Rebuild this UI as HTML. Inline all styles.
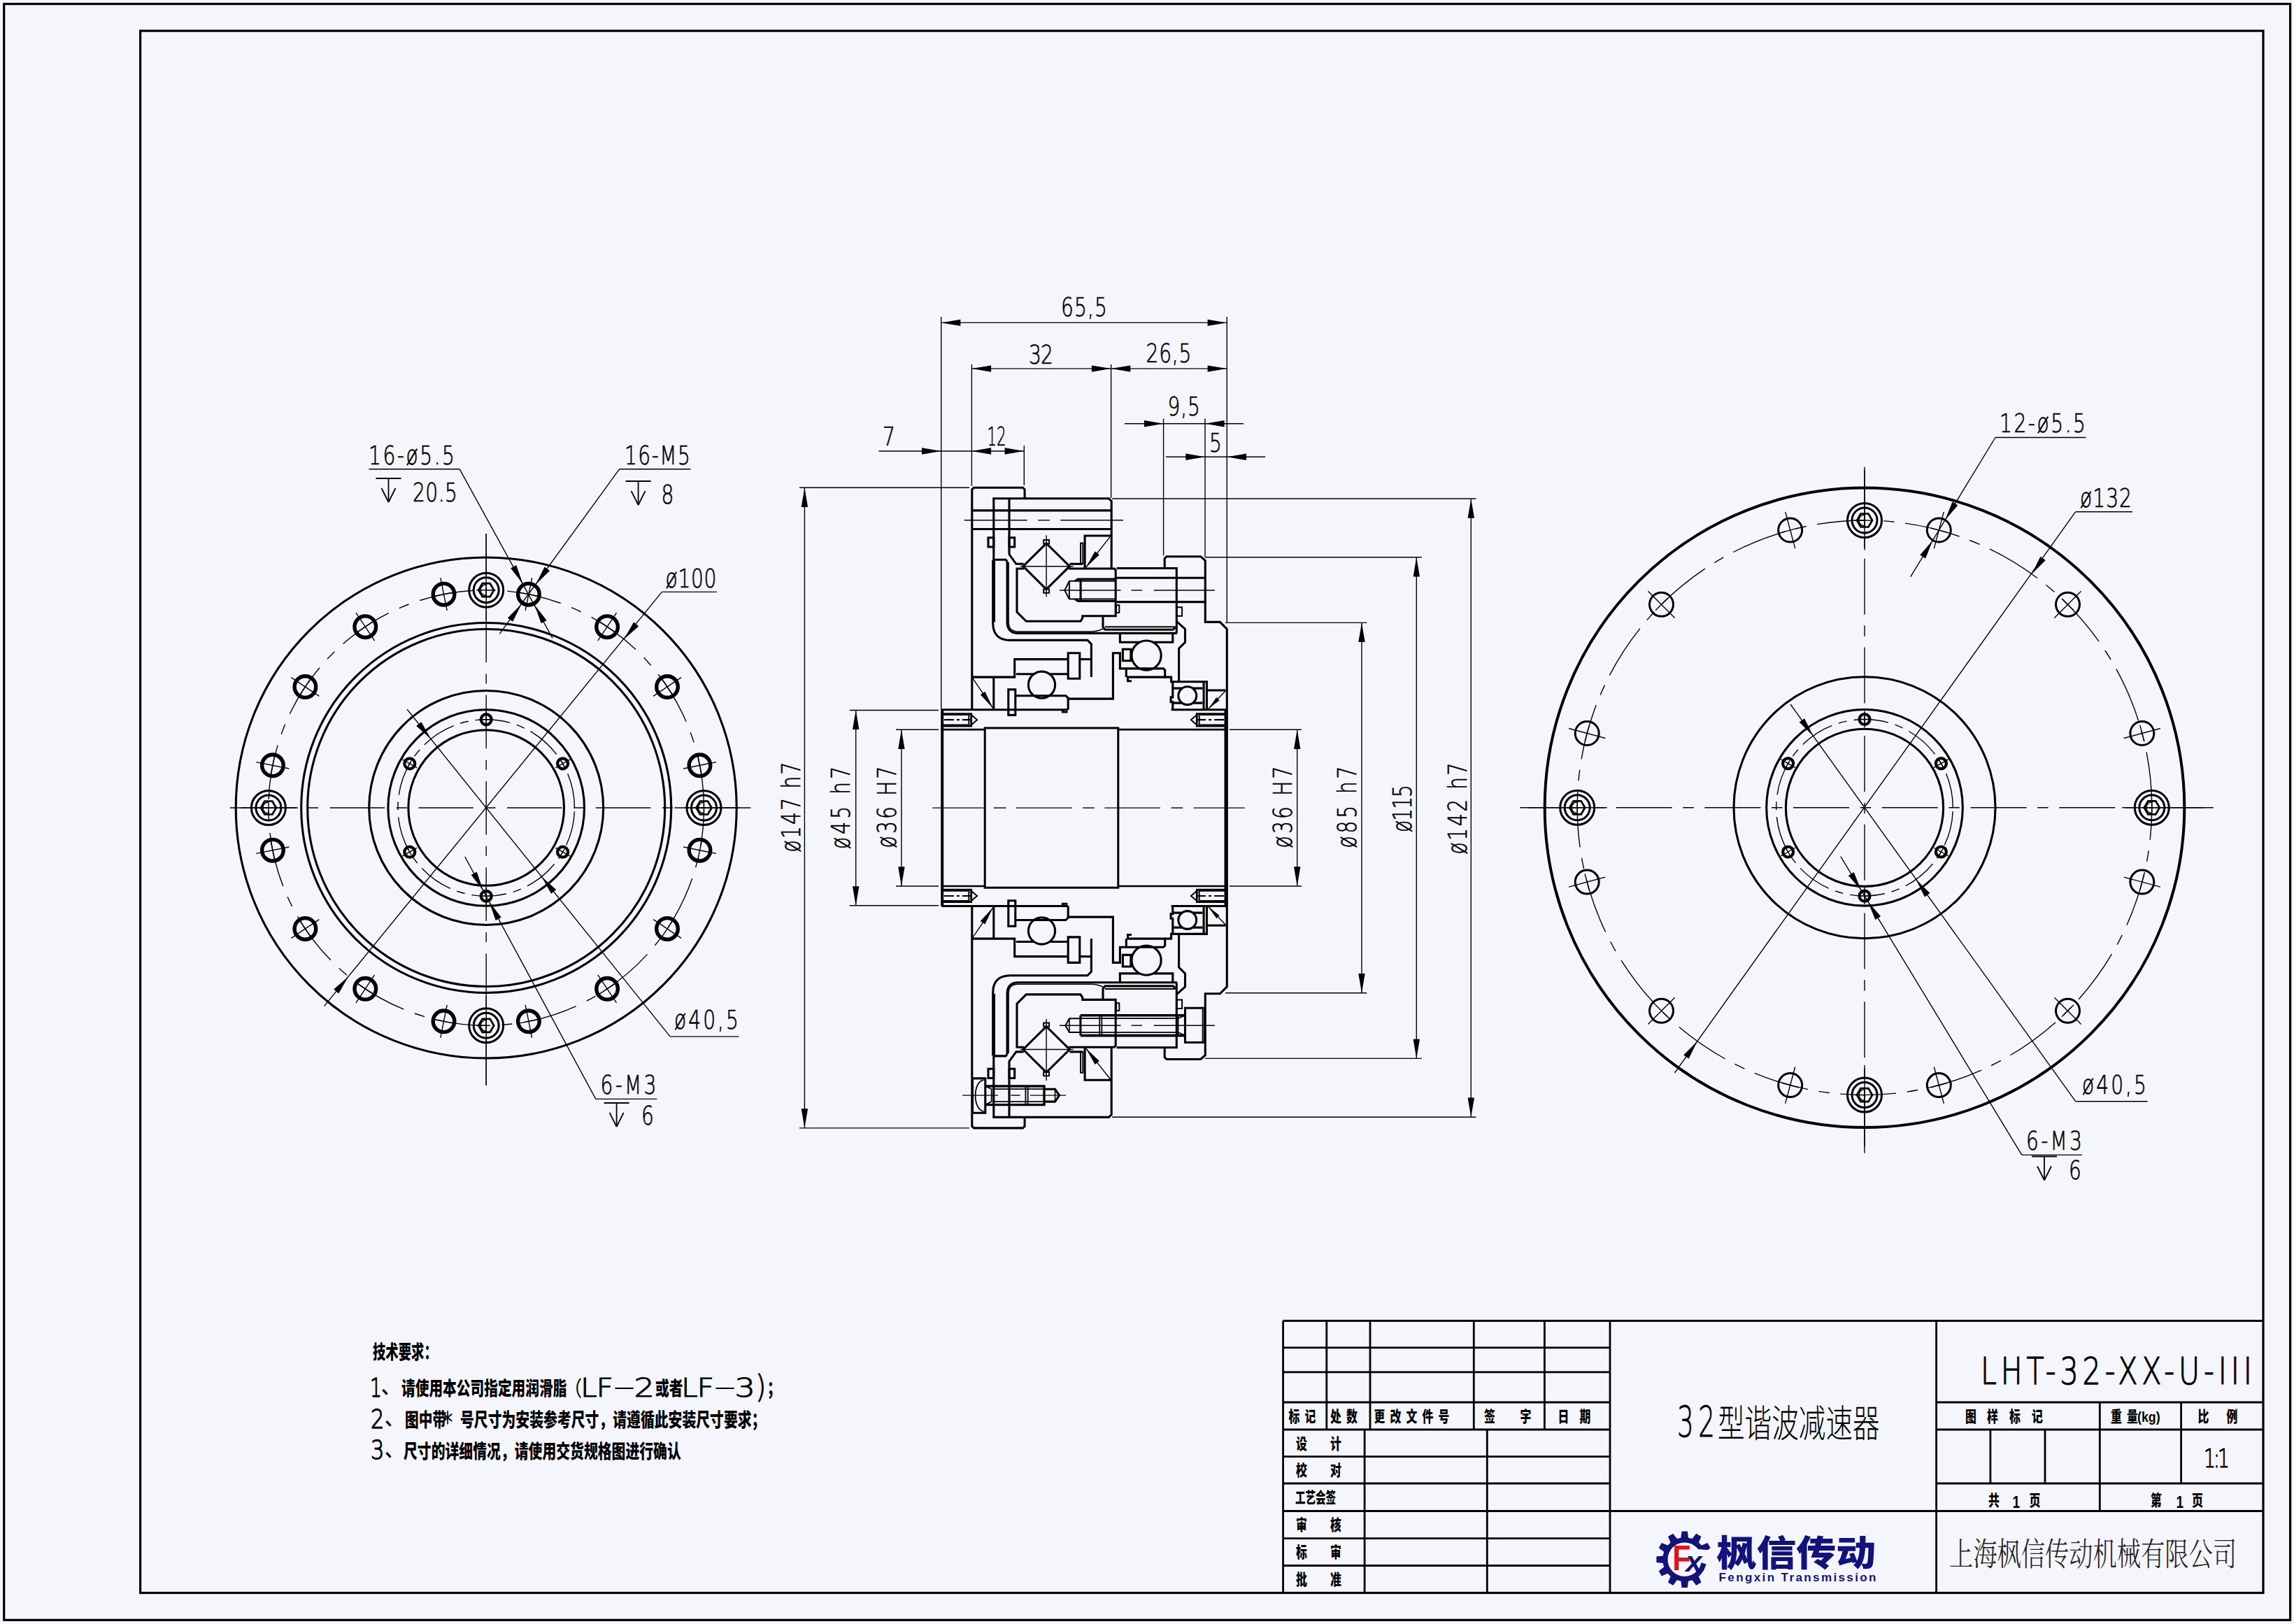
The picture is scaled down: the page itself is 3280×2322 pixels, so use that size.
<!DOCTYPE html>
<html lang="zh"><head><meta charset="utf-8"><title>LHT-32-XX-U-III</title>
<style>html,body{margin:0;padding:0;background:#f5f6fb}svg{display:block}</style></head>
<body><svg width="3280" height="2322" viewBox="0 0 3280 2322" stroke="#000" fill="none">
<rect x="0" y="0" width="3280" height="2322" fill="#f5f6fb" stroke="none"/>
<rect x="5.7" y="5.6" width="3268.9" height="2310.7" stroke-width="3.2" fill="none"/>
<rect x="200.6" y="44.1" width="3035.4" height="2233.4" stroke-width="3.2" fill="none"/>
<line x1="1834.6" y1="1888.5" x2="3236" y2="1888.5" stroke-width="2.8"/>
<line x1="1834.6" y1="1888.5" x2="1834.6" y2="2277.5" stroke-width="2.8"/>
<line x1="1834.6" y1="1926.9" x2="2302" y2="1926.9" stroke-width="2.8"/>
<line x1="1834.6" y1="1961.9" x2="2302" y2="1961.9" stroke-width="2.8"/>
<line x1="1834.6" y1="2005" x2="2302" y2="2005" stroke-width="2.8"/>
<line x1="1834.6" y1="2044" x2="2302" y2="2044" stroke-width="2.8"/>
<line x1="1834.6" y1="2082.6" x2="2302" y2="2082.6" stroke-width="2.8"/>
<line x1="1834.6" y1="2121" x2="2302" y2="2121" stroke-width="2.8"/>
<line x1="1834.6" y1="2160.5" x2="2302" y2="2160.5" stroke-width="2.8"/>
<line x1="1834.6" y1="2199.6" x2="2302" y2="2199.6" stroke-width="2.8"/>
<line x1="1834.6" y1="2238.5" x2="2302" y2="2238.5" stroke-width="2.8"/>
<line x1="1896.8" y1="1888.5" x2="1896.8" y2="2044" stroke-width="2.8"/>
<line x1="1959" y1="1888.5" x2="1959" y2="2044" stroke-width="2.8"/>
<line x1="2107.3" y1="1888.5" x2="2107.3" y2="2044" stroke-width="2.8"/>
<line x1="2208.4" y1="1888.5" x2="2208.4" y2="2044" stroke-width="2.8"/>
<line x1="1951.1" y1="2044" x2="1951.1" y2="2277.5" stroke-width="2.8"/>
<line x1="2126.3" y1="2044" x2="2126.3" y2="2277.5" stroke-width="2.8"/>
<line x1="2302" y1="1888.5" x2="2302" y2="2277.5" stroke-width="2.8"/>
<line x1="2768.6" y1="1888.5" x2="2768.6" y2="2277.5" stroke-width="2.8"/>
<line x1="2302" y1="2160.5" x2="3236" y2="2160.5" stroke-width="2.8"/>
<line x1="2768.6" y1="2005" x2="3236" y2="2005" stroke-width="2.8"/>
<line x1="2768.6" y1="2044" x2="3236" y2="2044" stroke-width="2.8"/>
<line x1="2768.6" y1="2121" x2="3236" y2="2121" stroke-width="2.8"/>
<line x1="3002.3" y1="2005" x2="3002.3" y2="2160.5" stroke-width="2.8"/>
<line x1="3118.6" y1="2005" x2="3118.6" y2="2121" stroke-width="2.8"/>
<line x1="2845.9" y1="2044" x2="2845.9" y2="2121" stroke-width="2.8"/>
<line x1="2924" y1="2044" x2="2924" y2="2121" stroke-width="2.8"/>
<text transform="translate(1842.5 2032.5) scale(0.72 1)" font-family="'Noto Sans CJK SC','Liberation Sans',sans-serif" font-size="22" text-anchor="start" font-weight="900" fill="#000" stroke="none" >标</text>
<text transform="translate(1865.5 2032.5) scale(0.72 1)" font-family="'Noto Sans CJK SC','Liberation Sans',sans-serif" font-size="22" text-anchor="start" font-weight="900" fill="#000" stroke="none" >记</text>
<text transform="translate(1902 2032.5) scale(0.72 1)" font-family="'Noto Sans CJK SC','Liberation Sans',sans-serif" font-size="22" text-anchor="start" font-weight="900" fill="#000" stroke="none" >处</text>
<text transform="translate(1925 2032.5) scale(0.72 1)" font-family="'Noto Sans CJK SC','Liberation Sans',sans-serif" font-size="22" text-anchor="start" font-weight="900" fill="#000" stroke="none" >数</text>
<text transform="translate(1964.5 2032.5) scale(0.72 1)" font-family="'Noto Sans CJK SC','Liberation Sans',sans-serif" font-size="22" text-anchor="start" font-weight="900" fill="#000" stroke="none" >更</text>
<text transform="translate(1987.5 2032.5) scale(0.72 1)" font-family="'Noto Sans CJK SC','Liberation Sans',sans-serif" font-size="22" text-anchor="start" font-weight="900" fill="#000" stroke="none" >改</text>
<text transform="translate(2010.5 2032.5) scale(0.72 1)" font-family="'Noto Sans CJK SC','Liberation Sans',sans-serif" font-size="22" text-anchor="start" font-weight="900" fill="#000" stroke="none" >文</text>
<text transform="translate(2033.5 2032.5) scale(0.72 1)" font-family="'Noto Sans CJK SC','Liberation Sans',sans-serif" font-size="22" text-anchor="start" font-weight="900" fill="#000" stroke="none" >件</text>
<text transform="translate(2056.5 2032.5) scale(0.72 1)" font-family="'Noto Sans CJK SC','Liberation Sans',sans-serif" font-size="22" text-anchor="start" font-weight="900" fill="#000" stroke="none" >号</text>
<text transform="translate(2122 2032.5) scale(0.72 1)" font-family="'Noto Sans CJK SC','Liberation Sans',sans-serif" font-size="22" text-anchor="start" font-weight="900" fill="#000" stroke="none" >签</text>
<text transform="translate(2173.5 2032.5) scale(0.72 1)" font-family="'Noto Sans CJK SC','Liberation Sans',sans-serif" font-size="22" text-anchor="start" font-weight="900" fill="#000" stroke="none" >字</text>
<text transform="translate(2227.5 2032.5) scale(0.72 1)" font-family="'Noto Sans CJK SC','Liberation Sans',sans-serif" font-size="22" text-anchor="start" font-weight="900" fill="#000" stroke="none" >日</text>
<text transform="translate(2258.5 2032.5) scale(0.72 1)" font-family="'Noto Sans CJK SC','Liberation Sans',sans-serif" font-size="22" text-anchor="start" font-weight="900" fill="#000" stroke="none" >期</text>
<text transform="translate(1853 2071.5) scale(0.72 1)" font-family="'Noto Sans CJK SC','Liberation Sans',sans-serif" font-size="22" text-anchor="start" font-weight="900" fill="#000" stroke="none" >设</text>
<text transform="translate(1902 2071.5) scale(0.72 1)" font-family="'Noto Sans CJK SC','Liberation Sans',sans-serif" font-size="22" text-anchor="start" font-weight="900" fill="#000" stroke="none" >计</text>
<text transform="translate(1853 2110) scale(0.72 1)" font-family="'Noto Sans CJK SC','Liberation Sans',sans-serif" font-size="22" text-anchor="start" font-weight="900" fill="#000" stroke="none" >校</text>
<text transform="translate(1902 2110) scale(0.72 1)" font-family="'Noto Sans CJK SC','Liberation Sans',sans-serif" font-size="22" text-anchor="start" font-weight="900" fill="#000" stroke="none" >对</text>
<text transform="translate(1853 2188) scale(0.72 1)" font-family="'Noto Sans CJK SC','Liberation Sans',sans-serif" font-size="22" text-anchor="start" font-weight="900" fill="#000" stroke="none" >审</text>
<text transform="translate(1902 2188) scale(0.72 1)" font-family="'Noto Sans CJK SC','Liberation Sans',sans-serif" font-size="22" text-anchor="start" font-weight="900" fill="#000" stroke="none" >核</text>
<text transform="translate(1853 2227) scale(0.72 1)" font-family="'Noto Sans CJK SC','Liberation Sans',sans-serif" font-size="22" text-anchor="start" font-weight="900" fill="#000" stroke="none" >标</text>
<text transform="translate(1902 2227) scale(0.72 1)" font-family="'Noto Sans CJK SC','Liberation Sans',sans-serif" font-size="22" text-anchor="start" font-weight="900" fill="#000" stroke="none" >审</text>
<text transform="translate(1853 2266) scale(0.72 1)" font-family="'Noto Sans CJK SC','Liberation Sans',sans-serif" font-size="22" text-anchor="start" font-weight="900" fill="#000" stroke="none" >批</text>
<text transform="translate(1902 2266) scale(0.72 1)" font-family="'Noto Sans CJK SC','Liberation Sans',sans-serif" font-size="22" text-anchor="start" font-weight="900" fill="#000" stroke="none" >准</text>
<text transform="translate(1852 2149) scale(0.66 1)" font-family="'Noto Sans CJK SC','Liberation Sans',sans-serif" font-size="22" text-anchor="start" font-weight="900" fill="#000" stroke="none" >工艺会签</text>
<text transform="translate(2810 2032.5) scale(0.72 1)" font-family="'Noto Sans CJK SC','Liberation Sans',sans-serif" font-size="22" text-anchor="start" font-weight="900" fill="#000" stroke="none" >图</text>
<text transform="translate(2841 2032.5) scale(0.72 1)" font-family="'Noto Sans CJK SC','Liberation Sans',sans-serif" font-size="22" text-anchor="start" font-weight="900" fill="#000" stroke="none" >样</text>
<text transform="translate(2873 2032.5) scale(0.72 1)" font-family="'Noto Sans CJK SC','Liberation Sans',sans-serif" font-size="22" text-anchor="start" font-weight="900" fill="#000" stroke="none" >标</text>
<text transform="translate(2905 2032.5) scale(0.72 1)" font-family="'Noto Sans CJK SC','Liberation Sans',sans-serif" font-size="22" text-anchor="start" font-weight="900" fill="#000" stroke="none" >记</text>
<text transform="translate(3018 2032.5) scale(0.72 1)" font-family="'Noto Sans CJK SC','Liberation Sans',sans-serif" font-size="22" text-anchor="start" font-weight="900" fill="#000" stroke="none" >重</text>
<text transform="translate(3041 2032.5) scale(0.72 1)" font-family="'Noto Sans CJK SC','Liberation Sans',sans-serif" font-size="22" text-anchor="start" font-weight="900" fill="#000" stroke="none" >量</text>
<text transform="translate(3056 2032.5) scale(0.85 1)" font-family="'Liberation Sans','DejaVu Sans',sans-serif" font-size="21" text-anchor="start" font-weight="700" fill="#000" stroke="none" >(kg)</text>
<text transform="translate(3142.5 2032.5) scale(0.72 1)" font-family="'Noto Sans CJK SC','Liberation Sans',sans-serif" font-size="22" text-anchor="start" font-weight="900" fill="#000" stroke="none" >比</text>
<text transform="translate(3183.5 2032.5) scale(0.72 1)" font-family="'Noto Sans CJK SC','Liberation Sans',sans-serif" font-size="22" text-anchor="start" font-weight="900" fill="#000" stroke="none" >例</text>
<text transform="translate(2843 2152.5) scale(0.72 1)" font-family="'Noto Sans CJK SC','Liberation Sans',sans-serif" font-size="22" text-anchor="start" font-weight="900" fill="#000" stroke="none" >共</text>
<text transform="translate(2901.5 2152.5) scale(0.72 1)" font-family="'Noto Sans CJK SC','Liberation Sans',sans-serif" font-size="22" text-anchor="start" font-weight="900" fill="#000" stroke="none" >页</text>
<text transform="translate(2877.5 2155.5) scale(0.8 1)" font-family="'Liberation Sans','DejaVu Sans',sans-serif" font-size="24" text-anchor="start" font-weight="700" fill="#000" stroke="none" >1</text>
<text transform="translate(3075 2152.5) scale(0.72 1)" font-family="'Noto Sans CJK SC','Liberation Sans',sans-serif" font-size="22" text-anchor="start" font-weight="900" fill="#000" stroke="none" >第</text>
<text transform="translate(3134 2152.5) scale(0.72 1)" font-family="'Noto Sans CJK SC','Liberation Sans',sans-serif" font-size="22" text-anchor="start" font-weight="900" fill="#000" stroke="none" >页</text>
<text transform="translate(3111.5 2155.5) scale(0.8 1)" font-family="'Liberation Sans','DejaVu Sans',sans-serif" font-size="24" text-anchor="start" font-weight="700" fill="#000" stroke="none" >1</text>
<text transform="translate(3151 2097.7) scale(0.7 1)" font-family="'DejaVu Sans','Liberation Sans',sans-serif" font-size="38" text-anchor="start" font-weight="200" fill="#000" textLength="52.9" lengthAdjust="spacing" stroke="#000" stroke-width="1.1" >1:1</text>
<text transform="translate(2832 1978.6) scale(0.78 1)" font-family="'DejaVu Sans','Liberation Sans',sans-serif" font-size="52.7" text-anchor="start" font-weight="200" fill="#000" textLength="497.4" lengthAdjust="spacing" stroke="#000" stroke-width="1.2" >LHT-32-XX-U-III</text>
<text transform="translate(2398 2054) scale(0.62 1)" font-family="'DejaVu Sans','Liberation Sans',sans-serif" font-size="60" text-anchor="start" font-weight="200" fill="#000" textLength="87.1" lengthAdjust="spacing" stroke="#000" stroke-width="0.9" >32</text>
<text transform="translate(2456 2055) scale(0.715 1)" font-family="'Noto Sans CJK SC','Liberation Sans',sans-serif" font-size="54" text-anchor="start" font-weight="300" fill="#000" stroke="none" >型谐波减速器</text>
<text transform="translate(2787 2238) scale(0.745 1)" font-family="'Noto Serif CJK SC','Liberation Serif',serif" font-size="46" text-anchor="start" font-weight="300" fill="#222" stroke="none" >上海枫信传动机械有限公司</text>
<path d="M2439.1 2221.6 L2440.2 2229.7 L2439.1 2237.8 L2439.1 2237.9 L2436 2245.4 L2431 2251.9 L2428.8 2253.9 L2432.5 2262.5 L2425.2 2266.7 L2419.6 2259.3 L2414 2260.7 L2412.9 2270 L2404.5 2270 L2403.4 2260.7 L2397.8 2259.3 L2392.2 2266.7 L2384.9 2262.5 L2388.6 2253.9 L2384.5 2249.8 L2375.9 2253.5 L2371.7 2246.2 L2379.1 2240.6 L2377.7 2235 L2368.4 2233.9 L2368.4 2225.5 L2377.7 2224.4 L2379.1 2218.8 L2371.7 2213.2 L2375.9 2205.9 L2384.5 2209.6 L2388.6 2205.5 L2384.9 2196.9 L2392.2 2192.7 L2397.8 2200.1 L2403.4 2198.7 L2404.5 2189.4 L2412.9 2189.4 L2414 2198.7 L2419.6 2200.1 L2425.2 2192.7 L2432.5 2196.9 L2428.8 2205.5 L2432.9 2209.6 L2441.5 2205.9 L2445.7 2213.2 L2438.3 2218.8Z M2432.9 2229.7 A24.2 24.2 0 1 0 2384.5 2229.7 A24.2 24.2 0 1 0 2432.9 2229.7Z" fill="#12127c" fill-rule="evenodd" stroke="none"/>
<polygon points="2424.7,2214.7 2448.7,2216.7 2448.7,2238.7 2426.7,2232.7" fill="#f5f6fb" stroke="none"/>
<text transform="translate(2391.2 2245.2) scale(0.86 1)" font-family="'Liberation Sans','DejaVu Sans',sans-serif" font-size="50" text-anchor="start" font-weight="700" fill="#d8141c" stroke="none" >F</text>
<text transform="translate(2410.2 2246.7) scale(1.05 1)" font-family="'Liberation Sans','DejaVu Sans',sans-serif" font-size="40" text-anchor="start" font-weight="700" fill="#12127c" stroke="none" font-style="italic">x</text>
<text transform="translate(2454.5 2238.5) scale(1.105 1)" font-family="'Noto Sans CJK SC','Liberation Sans',sans-serif" font-size="51.5" text-anchor="start" font-weight="900" fill="#12127c" stroke="none" >枫信传动</text>
<text transform="translate(2457.5 2260.8)" font-family="'Liberation Sans','DejaVu Sans',sans-serif" font-size="17" text-anchor="start" font-weight="700" fill="#12127c" textLength="225" lengthAdjust="spacing" stroke="none" >Fengxin Transmission</text>
<text transform="translate(533 1943) scale(0.68 1)" font-family="'Noto Sans CJK SC','Liberation Sans',sans-serif" font-size="27" text-anchor="start" font-weight="900" fill="#000" stroke="none" >技术要求：</text>
<text transform="translate(529 1996.5) scale(0.7 1)" font-family="'DejaVu Sans','Liberation Sans',sans-serif" font-size="38" text-anchor="start" font-weight="200" fill="#000" stroke="#000" stroke-width="1.3" >1</text>
<text transform="translate(545 1992) scale(0.9 1)" font-family="'Liberation Sans','Noto Sans CJK SC',sans-serif" font-size="30" text-anchor="start" font-weight="500" fill="#000" stroke="none" >、</text>
<text transform="translate(574 1995) scale(0.73 1)" font-family="'Noto Sans CJK SC','Liberation Sans',sans-serif" font-size="27" text-anchor="start" font-weight="900" fill="#000" stroke="none" >请使用本公司指定用润滑脂</text>
<text transform="translate(806 1996) scale(0.875 1)" font-family="'Liberation Sans','Noto Sans CJK SC',sans-serif" font-size="30" text-anchor="start" font-weight="400" fill="#000" stroke="none" >（</text>
<text transform="translate(830 1996.5) scale(1.15 1)" font-family="'DejaVu Sans','Liberation Sans',sans-serif" font-size="37" text-anchor="start" font-weight="200" fill="#000" textLength="40.9" lengthAdjust="spacing" stroke="#000" stroke-width="1.0" >LF</text>
<text transform="translate(874.5 1996) scale(1.2 1)" font-family="'Liberation Sans','Noto Sans CJK SC',sans-serif" font-size="30" text-anchor="start" font-weight="400" fill="#000" stroke="none" >－</text>
<text transform="translate(906.5 1996.5) scale(1.25 1)" font-family="'DejaVu Sans','Liberation Sans',sans-serif" font-size="37" text-anchor="start" font-weight="200" fill="#000" stroke="#000" stroke-width="1.0" >2</text>
<text transform="translate(937 1995) scale(0.73 1)" font-family="'Noto Sans CJK SC','Liberation Sans',sans-serif" font-size="27" text-anchor="start" font-weight="900" fill="#000" stroke="none" >或者</text>
<text transform="translate(974 1996.5) scale(1.15 1)" font-family="'DejaVu Sans','Liberation Sans',sans-serif" font-size="37" text-anchor="start" font-weight="200" fill="#000" textLength="40.9" lengthAdjust="spacing" stroke="#000" stroke-width="1.0" >LF</text>
<text transform="translate(1018.5 1996) scale(1.2 1)" font-family="'Liberation Sans','Noto Sans CJK SC',sans-serif" font-size="30" text-anchor="start" font-weight="400" fill="#000" stroke="none" >－</text>
<text transform="translate(1050.5 1996.5) scale(1.25 1)" font-family="'DejaVu Sans','Liberation Sans',sans-serif" font-size="37" text-anchor="start" font-weight="200" fill="#000" stroke="#000" stroke-width="1.0" >3</text>
<text transform="translate(1080 1998) scale(0.9 1)" font-family="'DejaVu Sans','Liberation Sans',sans-serif" font-size="44" text-anchor="start" font-weight="200" fill="#000" stroke="#000" stroke-width="1.0" >)</text>
<text transform="translate(1097 1995) scale(0.73 1)" font-family="'Noto Sans CJK SC','Liberation Sans',sans-serif" font-size="27" text-anchor="start" font-weight="900" fill="#000" stroke="none" >；</text>
<text transform="translate(530 2041.5) scale(0.8 1)" font-family="'DejaVu Sans','Liberation Sans',sans-serif" font-size="38" text-anchor="start" font-weight="200" fill="#000" stroke="#000" stroke-width="1.3" >2</text>
<text transform="translate(550 2037) scale(0.9 1)" font-family="'Liberation Sans','Noto Sans CJK SC',sans-serif" font-size="30" text-anchor="start" font-weight="500" fill="#000" stroke="none" >、</text>
<text transform="translate(579 2040) scale(0.73 1)" font-family="'Noto Sans CJK SC','Liberation Sans',sans-serif" font-size="27" text-anchor="start" font-weight="900" fill="#000" stroke="none" >图中带</text>
<text transform="translate(633 2048) scale(0.7 1)" font-family="'DejaVu Sans','Liberation Sans',sans-serif" font-size="40" text-anchor="start" font-weight="200" fill="#000" stroke="#000" stroke-width="1.2" >*</text>
<text transform="translate(658 2040) scale(0.735 1)" font-family="'Noto Sans CJK SC','Liberation Sans',sans-serif" font-size="27" text-anchor="start" font-weight="900" fill="#000" stroke="none" >号尺寸为安装参考尺寸，请遵循此安装尺寸要求；</text>
<text transform="translate(530 2086) scale(0.8 1)" font-family="'DejaVu Sans','Liberation Sans',sans-serif" font-size="38" text-anchor="start" font-weight="200" fill="#000" stroke="#000" stroke-width="1.3" >3</text>
<text transform="translate(550 2081.5) scale(0.9 1)" font-family="'Liberation Sans','Noto Sans CJK SC',sans-serif" font-size="30" text-anchor="start" font-weight="500" fill="#000" stroke="none" >、</text>
<text transform="translate(577 2084.5) scale(0.735 1)" font-family="'Noto Sans CJK SC','Liberation Sans',sans-serif" font-size="27" text-anchor="start" font-weight="900" fill="#000" stroke="none" >尺寸的详细情况，请使用交货规格图进行确认</text>
<circle cx="695.2" cy="1155" r="358" stroke-width="3.1" fill="none"/>
<circle cx="695.2" cy="1155" r="264.5" stroke-width="3.1" fill="none"/>
<circle cx="695.2" cy="1155" r="255.5" stroke-width="3.1" fill="none"/>
<circle cx="695.2" cy="1155" r="167.5" stroke-width="3.1" fill="none"/>
<circle cx="695.2" cy="1155" r="140.3" stroke-width="3.1" fill="none"/>
<circle cx="695.2" cy="1155" r="111.3" stroke-width="3.1" fill="none"/>
<circle cx="695.2" cy="1155" r="311.3" stroke-width="1.4" stroke-dasharray="78.5 16.6 15 16.6" stroke-dashoffset="0" fill="none" transform="translate(0 2310) scale(1 -1)"/>
<circle cx="695.2" cy="1155" r="126.3" stroke-width="1.4" stroke-dasharray="50 10 12 10" stroke-dashoffset="0" fill="none" transform="translate(0 2310) scale(1 -1)"/>
<line x1="328.7" y1="1155" x2="1073.3" y2="1155" stroke-width="1.4" stroke-dasharray="78.5 16.6 15 16.6" stroke-dashoffset="110.4"/>
<line x1="695.2" y1="763" x2="695.2" y2="1552" stroke-width="1.4" stroke-dasharray="76.5 16.35 14 16.35" stroke-dashoffset="15.6"/>
<line x1="964.5" y1="1155" x2="1073.3" y2="1155" stroke-width="1.4"/>
<line x1="695.2" y1="1424.3" x2="695.2" y2="1552" stroke-width="1.4"/>
<line x1="425.9" y1="1155" x2="328.7" y2="1155" stroke-width="1.4"/>
<line x1="695.2" y1="885.7" x2="695.2" y2="763" stroke-width="1.4"/>
<circle cx="755.9" cy="849.7" r="15.3" stroke-width="5.4" fill="none"/>
<line x1="751.2" y1="873.2" x2="760.6" y2="826.1" stroke-width="1.4"/>
<line x1="743.2" y1="847.1" x2="768.7" y2="852.2" stroke-width="1.4"/>
<circle cx="868.1" cy="896.2" r="15.3" stroke-width="5.4" fill="none"/>
<line x1="854.8" y1="916.1" x2="881.5" y2="876.2" stroke-width="1.4"/>
<line x1="857.3" y1="888.9" x2="879" y2="903.4" stroke-width="1.4"/>
<circle cx="954" cy="982.1" r="15.3" stroke-width="5.4" fill="none"/>
<line x1="934.1" y1="995.4" x2="974" y2="968.7" stroke-width="1.4"/>
<line x1="946.8" y1="971.2" x2="961.3" y2="992.9" stroke-width="1.4"/>
<circle cx="1000.5" cy="1094.3" r="15.3" stroke-width="5.4" fill="none"/>
<line x1="977" y1="1099" x2="1024.1" y2="1089.6" stroke-width="1.4"/>
<line x1="998" y1="1081.5" x2="1003.1" y2="1107" stroke-width="1.4"/>
<circle cx="1000.5" cy="1215.7" r="15.3" stroke-width="5.4" fill="none"/>
<line x1="977" y1="1211" x2="1024.1" y2="1220.4" stroke-width="1.4"/>
<line x1="1003.1" y1="1203" x2="998" y2="1228.5" stroke-width="1.4"/>
<circle cx="954" cy="1327.9" r="15.3" stroke-width="5.4" fill="none"/>
<line x1="934.1" y1="1314.6" x2="974" y2="1341.3" stroke-width="1.4"/>
<line x1="961.3" y1="1317.1" x2="946.8" y2="1338.8" stroke-width="1.4"/>
<circle cx="868.1" cy="1413.8" r="15.3" stroke-width="5.4" fill="none"/>
<line x1="854.8" y1="1393.9" x2="881.5" y2="1433.8" stroke-width="1.4"/>
<line x1="879" y1="1406.6" x2="857.3" y2="1421.1" stroke-width="1.4"/>
<circle cx="755.9" cy="1460.3" r="15.3" stroke-width="5.4" fill="none"/>
<line x1="751.2" y1="1436.8" x2="760.6" y2="1483.9" stroke-width="1.4"/>
<line x1="768.7" y1="1457.8" x2="743.2" y2="1462.9" stroke-width="1.4"/>
<circle cx="634.5" cy="1460.3" r="15.3" stroke-width="5.4" fill="none"/>
<line x1="639.2" y1="1436.8" x2="629.8" y2="1483.9" stroke-width="1.4"/>
<line x1="647.2" y1="1462.9" x2="621.7" y2="1457.8" stroke-width="1.4"/>
<circle cx="522.3" cy="1413.8" r="15.3" stroke-width="5.4" fill="none"/>
<line x1="535.6" y1="1393.9" x2="508.9" y2="1433.8" stroke-width="1.4"/>
<line x1="533.1" y1="1421.1" x2="511.4" y2="1406.6" stroke-width="1.4"/>
<circle cx="436.4" cy="1327.9" r="15.3" stroke-width="5.4" fill="none"/>
<line x1="456.3" y1="1314.6" x2="416.4" y2="1341.3" stroke-width="1.4"/>
<line x1="443.6" y1="1338.8" x2="429.1" y2="1317.1" stroke-width="1.4"/>
<circle cx="389.9" cy="1215.7" r="15.3" stroke-width="5.4" fill="none"/>
<line x1="413.4" y1="1211" x2="366.3" y2="1220.4" stroke-width="1.4"/>
<line x1="392.4" y1="1228.5" x2="387.3" y2="1203" stroke-width="1.4"/>
<circle cx="389.9" cy="1094.3" r="15.3" stroke-width="5.4" fill="none"/>
<line x1="413.4" y1="1099" x2="366.3" y2="1089.6" stroke-width="1.4"/>
<line x1="387.3" y1="1107" x2="392.4" y2="1081.5" stroke-width="1.4"/>
<circle cx="436.4" cy="982.1" r="15.3" stroke-width="5.4" fill="none"/>
<line x1="456.3" y1="995.4" x2="416.4" y2="968.7" stroke-width="1.4"/>
<line x1="429.1" y1="992.9" x2="443.6" y2="971.2" stroke-width="1.4"/>
<circle cx="522.3" cy="896.2" r="15.3" stroke-width="5.4" fill="none"/>
<line x1="535.6" y1="916.1" x2="508.9" y2="876.2" stroke-width="1.4"/>
<line x1="511.4" y1="903.4" x2="533.1" y2="888.9" stroke-width="1.4"/>
<circle cx="634.5" cy="849.7" r="15.3" stroke-width="5.4" fill="none"/>
<line x1="639.2" y1="873.2" x2="629.8" y2="826.1" stroke-width="1.4"/>
<line x1="621.7" y1="852.2" x2="647.2" y2="847.1" stroke-width="1.4"/>
<circle cx="1006.5" cy="1155" r="24.5" stroke-width="3.0" fill="none"/>
<circle cx="1006.5" cy="1155" r="18" stroke-width="3.0" fill="none"/>
<path d="M1017.5 1155 L1012 1164.5 L1001 1164.5 L995.5 1155 L1001 1145.5 L1012 1145.5Z" stroke-width="2.7" fill="none" stroke-linejoin="miter"/>
<path d="M1006.5 1147 A8 8 0 0 0 1006.5 1163" stroke-width="1.45" fill="none" />
<line x1="1006.5" y1="1147" x2="1006.5" y2="1163" stroke-width="1.4"/>
<line x1="992.5" y1="1155" x2="1006.5" y2="1155" stroke-width="1.4"/>
<circle cx="695.2" cy="1466.3" r="24.5" stroke-width="3.0" fill="none"/>
<circle cx="695.2" cy="1466.3" r="18" stroke-width="3.0" fill="none"/>
<path d="M706.2 1466.3 L700.7 1475.8 L689.7 1475.8 L684.2 1466.3 L689.7 1456.8 L700.7 1456.8Z" stroke-width="2.7" fill="none" stroke-linejoin="miter"/>
<path d="M695.2 1458.3 A8 8 0 0 0 695.2 1474.3" stroke-width="1.45" fill="none" />
<line x1="695.2" y1="1458.3" x2="695.2" y2="1474.3" stroke-width="1.4"/>
<line x1="681.2" y1="1466.3" x2="695.2" y2="1466.3" stroke-width="1.4"/>
<circle cx="383.9" cy="1155" r="24.5" stroke-width="3.0" fill="none"/>
<circle cx="383.9" cy="1155" r="18" stroke-width="3.0" fill="none"/>
<path d="M394.9 1155 L389.4 1164.5 L378.4 1164.5 L372.9 1155 L378.4 1145.5 L389.4 1145.5Z" stroke-width="2.7" fill="none" stroke-linejoin="miter"/>
<path d="M383.9 1147 A8 8 0 0 0 383.9 1163" stroke-width="1.45" fill="none" />
<line x1="383.9" y1="1147" x2="383.9" y2="1163" stroke-width="1.4"/>
<line x1="369.9" y1="1155" x2="383.9" y2="1155" stroke-width="1.4"/>
<circle cx="695.2" cy="843.7" r="24.5" stroke-width="3.0" fill="none"/>
<circle cx="695.2" cy="843.7" r="18" stroke-width="3.0" fill="none"/>
<path d="M706.2 843.7 L700.7 853.2 L689.7 853.2 L684.2 843.7 L689.7 834.2 L700.7 834.2Z" stroke-width="2.7" fill="none" stroke-linejoin="miter"/>
<path d="M695.2 835.7 A8 8 0 0 0 695.2 851.7" stroke-width="1.45" fill="none" />
<line x1="695.2" y1="835.7" x2="695.2" y2="851.7" stroke-width="1.4"/>
<line x1="681.2" y1="843.7" x2="695.2" y2="843.7" stroke-width="1.4"/>
<circle cx="695.2" cy="1028.7" r="7.5" stroke-width="4.2" fill="none"/>
<line x1="695.2" y1="1040.7" x2="695.2" y2="1016.7" stroke-width="1.4"/>
<line x1="690.2" y1="1028.7" x2="700.2" y2="1028.7" stroke-width="1.4"/>
<circle cx="804.6" cy="1091.8" r="7.5" stroke-width="4.2" fill="none"/>
<line x1="794.2" y1="1097.8" x2="815" y2="1085.8" stroke-width="1.4"/>
<line x1="802.1" y1="1087.5" x2="807.1" y2="1096.2" stroke-width="1.4"/>
<circle cx="804.6" cy="1218.2" r="7.5" stroke-width="4.2" fill="none"/>
<line x1="794.2" y1="1212.2" x2="815" y2="1224.2" stroke-width="1.4"/>
<line x1="807.1" y1="1213.8" x2="802.1" y2="1222.5" stroke-width="1.4"/>
<circle cx="695.2" cy="1281.3" r="7.5" stroke-width="4.2" fill="none"/>
<line x1="695.2" y1="1269.3" x2="695.2" y2="1293.3" stroke-width="1.4"/>
<line x1="700.2" y1="1281.3" x2="690.2" y2="1281.3" stroke-width="1.4"/>
<circle cx="585.8" cy="1218.2" r="7.5" stroke-width="4.2" fill="none"/>
<line x1="596.2" y1="1212.2" x2="575.4" y2="1224.2" stroke-width="1.4"/>
<line x1="588.3" y1="1222.5" x2="583.3" y2="1213.8" stroke-width="1.4"/>
<circle cx="585.8" cy="1091.8" r="7.5" stroke-width="4.2" fill="none"/>
<line x1="596.2" y1="1097.8" x2="575.4" y2="1085.8" stroke-width="1.4"/>
<line x1="583.3" y1="1096.2" x2="588.3" y2="1087.5" stroke-width="1.4"/>
<line x1="527.5" y1="670.7" x2="657.1" y2="670.7" stroke-width="1.4"/>
<line x1="657.1" y1="670.7" x2="790" y2="912.5" stroke-width="1.4"/>
<polygon points="747.5,834.4 730.2,812.5 738.2,808.1" fill="#000" stroke="none"/>
<polygon points="764.4,865 781.7,886.9 773.7,891.3" fill="#000" stroke="none"/>
<text transform="translate(527 664.3) scale(0.74 1)" font-family="'DejaVu Sans','Liberation Sans',sans-serif" font-size="38" text-anchor="start" font-weight="200" fill="#000" textLength="166.2" lengthAdjust="spacing" stroke="#000" stroke-width="0.7" >16-ø5.5</text>
<line x1="537.5" y1="684" x2="573.5" y2="684" stroke-width="1.8"/>
<line x1="555.5" y1="684" x2="555.5" y2="718" stroke-width="1.8"/>
<line x1="545.5" y1="698" x2="555.5" y2="718" stroke-width="1.8"/>
<line x1="565.5" y1="698" x2="555.5" y2="718" stroke-width="1.8"/>
<text transform="translate(590 716.5) scale(0.74 1)" font-family="'DejaVu Sans','Liberation Sans',sans-serif" font-size="38" text-anchor="start" font-weight="200" fill="#000" textLength="86.5" lengthAdjust="spacing" stroke="#000" stroke-width="0.7" >20.5</text>
<line x1="885.7" y1="670.7" x2="987.5" y2="670.7" stroke-width="1.4"/>
<line x1="885.7" y1="670.7" x2="714.3" y2="906.4" stroke-width="1.4"/>
<polygon points="766.2,835.5 778.6,810.5 786.1,815.9" fill="#000" stroke="none"/>
<polygon points="745.7,863.8 733.2,888.8 725.8,883.4" fill="#000" stroke="none"/>
<text transform="translate(893 664.3) scale(0.74 1)" font-family="'DejaVu Sans','Liberation Sans',sans-serif" font-size="38" text-anchor="start" font-weight="200" fill="#000" textLength="127" lengthAdjust="spacing" stroke="#000" stroke-width="0.7" >16-M5</text>
<line x1="894.6" y1="688" x2="930.6" y2="688" stroke-width="1.8"/>
<line x1="912.6" y1="688" x2="912.6" y2="722" stroke-width="1.8"/>
<line x1="902.6" y1="702" x2="912.6" y2="722" stroke-width="1.8"/>
<line x1="922.6" y1="702" x2="912.6" y2="722" stroke-width="1.8"/>
<text transform="translate(945.5 720) scale(0.74 1)" font-family="'DejaVu Sans','Liberation Sans',sans-serif" font-size="38" text-anchor="start" font-weight="200" fill="#000" stroke="#000" stroke-width="0.7" >8</text>
<line x1="946.4" y1="846.4" x2="1025" y2="846.4" stroke-width="1.4"/>
<line x1="946.4" y1="846.4" x2="463.6" y2="1438.6" stroke-width="1.4"/>
<polygon points="892.3,913.7 906.1,889.5 913.2,895.4" fill="#000" stroke="none"/>
<polygon points="498.1,1396.3 484.3,1420.5 477.2,1414.6" fill="#000" stroke="none"/>
<text transform="translate(951.5 840) scale(0.74 1)" font-family="'DejaVu Sans','Liberation Sans',sans-serif" font-size="38" text-anchor="start" font-weight="200" fill="#000" textLength="98.6" lengthAdjust="spacing" stroke="#000" stroke-width="0.7" >ø100</text>
<line x1="582.1" y1="1014.3" x2="958.2" y2="1482.1" stroke-width="1.4"/>
<line x1="958.2" y1="1482.1" x2="1056.4" y2="1482.1" stroke-width="1.4"/>
<polygon points="774.4,1253.4 795.2,1271.9 788,1277.7" fill="#000" stroke="none"/>
<polygon points="616,1056.6 595.2,1038.1 602.4,1032.3" fill="#000" stroke="none"/>
<text transform="translate(964 1471.4) scale(0.74 1)" font-family="'DejaVu Sans','Liberation Sans',sans-serif" font-size="38" text-anchor="start" font-weight="200" fill="#000" textLength="124.3" lengthAdjust="spacing" stroke="#000" stroke-width="0.7" >ø40,5</text>
<line x1="851.8" y1="1571.4" x2="939.3" y2="1571.4" stroke-width="1.4"/>
<line x1="664.8" y1="1225" x2="851.8" y2="1571.4" stroke-width="1.4"/>
<polygon points="699.7,1289.7 716.8,1311.7 708.7,1316" fill="#000" stroke="none"/>
<polygon points="690.7,1272.9 673.6,1250.9 681.7,1246.6" fill="#000" stroke="none"/>
<text transform="translate(858.5 1564.3) scale(0.74 1)" font-family="'DejaVu Sans','Liberation Sans',sans-serif" font-size="38" text-anchor="start" font-weight="200" fill="#000" textLength="108.1" lengthAdjust="spacing" stroke="#000" stroke-width="0.7" >6-M3</text>
<line x1="863.6" y1="1577" x2="899.6" y2="1577" stroke-width="1.8"/>
<line x1="881.6" y1="1577" x2="881.6" y2="1611" stroke-width="1.8"/>
<line x1="871.6" y1="1591" x2="881.6" y2="1611" stroke-width="1.8"/>
<line x1="891.6" y1="1591" x2="881.6" y2="1611" stroke-width="1.8"/>
<text transform="translate(917 1608) scale(0.74 1)" font-family="'DejaVu Sans','Liberation Sans',sans-serif" font-size="38" text-anchor="start" font-weight="200" fill="#000" stroke="#000" stroke-width="0.7" >6</text>
<circle cx="2666" cy="1154.8" r="457.3" stroke-width="4.0" fill="none"/>
<circle cx="2666" cy="1154.8" r="187" stroke-width="3.1" fill="none"/>
<circle cx="2666" cy="1154.8" r="140.3" stroke-width="3.1" fill="none"/>
<circle cx="2666" cy="1154.8" r="112.6" stroke-width="3.1" fill="none"/>
<circle cx="2666" cy="1154.8" r="410.8" stroke-width="1.4" stroke-dasharray="80 15.6 15.5 15.6" stroke-dashoffset="0" fill="none" transform="translate(0 2309.6) scale(1 -1)"/>
<circle cx="2666" cy="1154.8" r="126.3" stroke-width="1.4" stroke-dasharray="50 10 12 10" stroke-dashoffset="0" fill="none" transform="translate(0 2309.6) scale(1 -1)"/>
<line x1="2173.3" y1="1154.8" x2="3164.9" y2="1154.8" stroke-width="1.4" stroke-dasharray="80 15.6 15.5 15.6" stroke-dashoffset="116"/>
<line x1="2666" y1="667.7" x2="2666" y2="1648.7" stroke-width="1.4" stroke-dasharray="80 15.6 15.5 15.6" stroke-dashoffset="122.4"/>
<line x1="3034.3" y1="1154.8" x2="3164.9" y2="1154.8" stroke-width="1.4"/>
<line x1="2666" y1="1523.1" x2="2666" y2="1648.7" stroke-width="1.4"/>
<line x1="2297.7" y1="1154.8" x2="2173.3" y2="1154.8" stroke-width="1.4"/>
<line x1="2666" y1="786.5" x2="2666" y2="667.7" stroke-width="1.4"/>
<circle cx="2772.3" cy="758" r="17" stroke-width="3.0" fill="none"/>
<line x1="2765.3" y1="784.1" x2="2779.3" y2="731.9" stroke-width="1.4"/>
<line x1="2760.7" y1="754.9" x2="2783.9" y2="761.1" stroke-width="1.4"/>
<circle cx="2956.5" cy="864.3" r="17" stroke-width="3.0" fill="none"/>
<line x1="2937.4" y1="883.4" x2="2975.6" y2="845.2" stroke-width="1.4"/>
<line x1="2948" y1="855.8" x2="2965" y2="872.8" stroke-width="1.4"/>
<circle cx="3062.8" cy="1048.5" r="17" stroke-width="3.0" fill="none"/>
<line x1="3036.7" y1="1055.5" x2="3088.9" y2="1041.5" stroke-width="1.4"/>
<line x1="3059.7" y1="1036.9" x2="3065.9" y2="1060.1" stroke-width="1.4"/>
<circle cx="3062.8" cy="1261.1" r="17" stroke-width="3.0" fill="none"/>
<line x1="3036.7" y1="1254.1" x2="3088.9" y2="1268.1" stroke-width="1.4"/>
<line x1="3065.9" y1="1249.5" x2="3059.7" y2="1272.7" stroke-width="1.4"/>
<circle cx="2956.5" cy="1445.3" r="17" stroke-width="3.0" fill="none"/>
<line x1="2937.4" y1="1426.2" x2="2975.6" y2="1464.4" stroke-width="1.4"/>
<line x1="2965" y1="1436.8" x2="2948" y2="1453.8" stroke-width="1.4"/>
<circle cx="2772.3" cy="1551.6" r="17" stroke-width="3.0" fill="none"/>
<line x1="2765.3" y1="1525.5" x2="2779.3" y2="1577.7" stroke-width="1.4"/>
<line x1="2783.9" y1="1548.5" x2="2760.7" y2="1554.7" stroke-width="1.4"/>
<circle cx="2559.7" cy="1551.6" r="17" stroke-width="3.0" fill="none"/>
<line x1="2566.7" y1="1525.5" x2="2552.7" y2="1577.7" stroke-width="1.4"/>
<line x1="2571.3" y1="1554.7" x2="2548.1" y2="1548.5" stroke-width="1.4"/>
<circle cx="2375.5" cy="1445.3" r="17" stroke-width="3.0" fill="none"/>
<line x1="2394.6" y1="1426.2" x2="2356.4" y2="1464.4" stroke-width="1.4"/>
<line x1="2384" y1="1453.8" x2="2367" y2="1436.8" stroke-width="1.4"/>
<circle cx="2269.2" cy="1261.1" r="17" stroke-width="3.0" fill="none"/>
<line x1="2295.3" y1="1254.1" x2="2243.1" y2="1268.1" stroke-width="1.4"/>
<line x1="2272.3" y1="1272.7" x2="2266.1" y2="1249.5" stroke-width="1.4"/>
<circle cx="2269.2" cy="1048.5" r="17" stroke-width="3.0" fill="none"/>
<line x1="2295.3" y1="1055.5" x2="2243.1" y2="1041.5" stroke-width="1.4"/>
<line x1="2266.1" y1="1060.1" x2="2272.3" y2="1036.9" stroke-width="1.4"/>
<circle cx="2375.5" cy="864.3" r="17" stroke-width="3.0" fill="none"/>
<line x1="2394.6" y1="883.4" x2="2356.4" y2="845.2" stroke-width="1.4"/>
<line x1="2367" y1="872.8" x2="2384" y2="855.8" stroke-width="1.4"/>
<circle cx="2559.7" cy="758" r="17" stroke-width="3.0" fill="none"/>
<line x1="2566.7" y1="784.1" x2="2552.7" y2="731.9" stroke-width="1.4"/>
<line x1="2548.1" y1="761.1" x2="2571.3" y2="754.9" stroke-width="1.4"/>
<circle cx="3076.8" cy="1154.8" r="24.5" stroke-width="3.0" fill="none"/>
<circle cx="3076.8" cy="1154.8" r="18" stroke-width="3.0" fill="none"/>
<path d="M3087.8 1154.8 L3082.3 1164.3 L3071.3 1164.3 L3065.8 1154.8 L3071.3 1145.3 L3082.3 1145.3Z" stroke-width="2.7" fill="none" stroke-linejoin="miter"/>
<path d="M3076.8 1146.8 A8 8 0 0 0 3076.8 1162.8" stroke-width="1.45" fill="none" />
<line x1="3076.8" y1="1146.8" x2="3076.8" y2="1162.8" stroke-width="1.4"/>
<line x1="3062.8" y1="1154.8" x2="3076.8" y2="1154.8" stroke-width="1.4"/>
<circle cx="2666" cy="1565.6" r="24.5" stroke-width="3.0" fill="none"/>
<circle cx="2666" cy="1565.6" r="18" stroke-width="3.0" fill="none"/>
<path d="M2677 1565.6 L2671.5 1575.1 L2660.5 1575.1 L2655 1565.6 L2660.5 1556.1 L2671.5 1556.1Z" stroke-width="2.7" fill="none" stroke-linejoin="miter"/>
<path d="M2666 1557.6 A8 8 0 0 0 2666 1573.6" stroke-width="1.45" fill="none" />
<line x1="2666" y1="1557.6" x2="2666" y2="1573.6" stroke-width="1.4"/>
<line x1="2652" y1="1565.6" x2="2666" y2="1565.6" stroke-width="1.4"/>
<circle cx="2255.2" cy="1154.8" r="24.5" stroke-width="3.0" fill="none"/>
<circle cx="2255.2" cy="1154.8" r="18" stroke-width="3.0" fill="none"/>
<path d="M2266.2 1154.8 L2260.7 1164.3 L2249.7 1164.3 L2244.2 1154.8 L2249.7 1145.3 L2260.7 1145.3Z" stroke-width="2.7" fill="none" stroke-linejoin="miter"/>
<path d="M2255.2 1146.8 A8 8 0 0 0 2255.2 1162.8" stroke-width="1.45" fill="none" />
<line x1="2255.2" y1="1146.8" x2="2255.2" y2="1162.8" stroke-width="1.4"/>
<line x1="2241.2" y1="1154.8" x2="2255.2" y2="1154.8" stroke-width="1.4"/>
<circle cx="2666" cy="744" r="24.5" stroke-width="3.0" fill="none"/>
<circle cx="2666" cy="744" r="18" stroke-width="3.0" fill="none"/>
<path d="M2677 744 L2671.5 753.5 L2660.5 753.5 L2655 744 L2660.5 734.5 L2671.5 734.5Z" stroke-width="2.7" fill="none" stroke-linejoin="miter"/>
<path d="M2666 736 A8 8 0 0 0 2666 752" stroke-width="1.45" fill="none" />
<line x1="2666" y1="736" x2="2666" y2="752" stroke-width="1.4"/>
<line x1="2652" y1="744" x2="2666" y2="744" stroke-width="1.4"/>
<circle cx="2666" cy="1028.5" r="7.5" stroke-width="4.2" fill="none"/>
<line x1="2666" y1="1040.5" x2="2666" y2="1016.5" stroke-width="1.4"/>
<line x1="2661" y1="1028.5" x2="2671" y2="1028.5" stroke-width="1.4"/>
<circle cx="2775.4" cy="1091.6" r="7.5" stroke-width="4.2" fill="none"/>
<line x1="2765" y1="1097.6" x2="2785.8" y2="1085.6" stroke-width="1.4"/>
<line x1="2772.9" y1="1087.3" x2="2777.9" y2="1096" stroke-width="1.4"/>
<circle cx="2775.4" cy="1218" r="7.5" stroke-width="4.2" fill="none"/>
<line x1="2765" y1="1212" x2="2785.8" y2="1224" stroke-width="1.4"/>
<line x1="2777.9" y1="1213.6" x2="2772.9" y2="1222.3" stroke-width="1.4"/>
<circle cx="2666" cy="1281.1" r="7.5" stroke-width="4.2" fill="none"/>
<line x1="2666" y1="1269.1" x2="2666" y2="1293.1" stroke-width="1.4"/>
<line x1="2671" y1="1281.1" x2="2661" y2="1281.1" stroke-width="1.4"/>
<circle cx="2556.6" cy="1218" r="7.5" stroke-width="4.2" fill="none"/>
<line x1="2567" y1="1212" x2="2546.2" y2="1224" stroke-width="1.4"/>
<line x1="2559.1" y1="1222.3" x2="2554.1" y2="1213.6" stroke-width="1.4"/>
<circle cx="2556.6" cy="1091.6" r="7.5" stroke-width="4.2" fill="none"/>
<line x1="2567" y1="1097.6" x2="2546.2" y2="1085.6" stroke-width="1.4"/>
<line x1="2554.1" y1="1096" x2="2559.1" y2="1087.3" stroke-width="1.4"/>
<line x1="2853" y1="625.5" x2="2982.5" y2="625.5" stroke-width="1.4"/>
<line x1="2853" y1="625.5" x2="2731.8" y2="824.6" stroke-width="1.4"/>
<polygon points="2781.2,743.5 2791.5,717.6 2799.4,722.4" fill="#000" stroke="none"/>
<polygon points="2763.5,772.5 2753.1,798.4 2745.3,793.6" fill="#000" stroke="none"/>
<text transform="translate(2859 617.5) scale(0.74 1)" font-family="'DejaVu Sans','Liberation Sans',sans-serif" font-size="38" text-anchor="start" font-weight="200" fill="#000" textLength="166.2" lengthAdjust="spacing" stroke="#000" stroke-width="0.7" >12-ø5.5</text>
<line x1="2967.6" y1="731.8" x2="3049" y2="731.8" stroke-width="1.4"/>
<line x1="2967.6" y1="731.8" x2="2394.5" y2="1534" stroke-width="1.4"/>
<polygon points="2905.1,820.8 2917.4,795.8 2924.8,801.1" fill="#000" stroke="none"/>
<polygon points="2426.9,1488.8 2414.6,1513.8 2407.2,1508.5" fill="#000" stroke="none"/>
<text transform="translate(2974 724.5) scale(0.74 1)" font-family="'DejaVu Sans','Liberation Sans',sans-serif" font-size="38" text-anchor="start" font-weight="200" fill="#000" textLength="100" lengthAdjust="spacing" stroke="#000" stroke-width="0.7" >ø132</text>
<line x1="2560" y1="1007" x2="2967.6" y2="1574.7" stroke-width="1.4"/>
<line x1="2967.6" y1="1574.7" x2="3070.6" y2="1574.7" stroke-width="1.4"/>
<polygon points="2739.6,1257.4 2759.4,1277 2751.9,1282.4" fill="#000" stroke="none"/>
<polygon points="2592.4,1052.2 2572.6,1032.6 2580.1,1027.2" fill="#000" stroke="none"/>
<text transform="translate(2977 1564) scale(0.74 1)" font-family="'DejaVu Sans','Liberation Sans',sans-serif" font-size="38" text-anchor="start" font-weight="200" fill="#000" textLength="124.3" lengthAdjust="spacing" stroke="#000" stroke-width="0.7" >ø40,5</text>
<line x1="2890.8" y1="1651.4" x2="2977.1" y2="1651.4" stroke-width="1.4"/>
<line x1="2631.8" y1="1224.7" x2="2890.8" y2="1651.4" stroke-width="1.4"/>
<polygon points="2670.9,1289.2 2689.1,1310.3 2681.3,1315.1" fill="#000" stroke="none"/>
<polygon points="2661.1,1273 2642.9,1251.9 2650.7,1247.1" fill="#000" stroke="none"/>
<text transform="translate(2897 1644) scale(0.74 1)" font-family="'DejaVu Sans','Liberation Sans',sans-serif" font-size="38" text-anchor="start" font-weight="200" fill="#000" textLength="108.1" lengthAdjust="spacing" stroke="#000" stroke-width="0.7" >6-M3</text>
<line x1="2905" y1="1653.5" x2="2941" y2="1653.5" stroke-width="1.8"/>
<line x1="2923" y1="1653.5" x2="2923" y2="1687.5" stroke-width="1.8"/>
<line x1="2913" y1="1667.5" x2="2923" y2="1687.5" stroke-width="1.8"/>
<line x1="2933" y1="1667.5" x2="2923" y2="1687.5" stroke-width="1.8"/>
<text transform="translate(2958 1686) scale(0.74 1)" font-family="'DejaVu Sans','Liberation Sans',sans-serif" font-size="38" text-anchor="start" font-weight="200" fill="#000" stroke="#000" stroke-width="0.7" >6</text>
<path d="M1389.8 1014.2 L1389.8 699.9 L1392.4 697.3 L1462.5 697.3 L1465.1 699.9 L1465.1 712.8" stroke-width="3.1" fill="none" stroke-linejoin="miter"/>
<path d="M1389.8 1296 L1389.8 1610.3 L1392.4 1612.9 L1462.5 1612.9 L1465.1 1610.3 L1465.1 1597.4" stroke-width="3.1" fill="none" stroke-linejoin="miter"/>
<path d="M1420.8 800.8 L1420.8 712.8 L1585.5 712.8 L1589.2 716.6 L1589.2 812.5" stroke-width="3.1" fill="none" stroke-linejoin="miter"/>
<path d="M1420.8 1509.4 L1420.8 1597.4 L1585.5 1597.4 L1589.2 1593.6 L1589.2 1497.7" stroke-width="3.1" fill="none" stroke-linejoin="miter"/>
<path d="M1443 712.8 L1443 792.6 L1452.9 806.3 L1463.6 806.3" stroke-width="3.1" fill="none" stroke-linejoin="miter"/>
<path d="M1443 1597.4 L1443 1517.6 L1452.9 1503.9 L1463.6 1503.9" stroke-width="3.1" fill="none" stroke-linejoin="miter"/>
<path d="M1529.4 806.3 L1547.6 806.3" stroke-width="3.1" fill="none" stroke-linejoin="miter"/>
<path d="M1529.4 1503.9 L1547.6 1503.9" stroke-width="3.1" fill="none" stroke-linejoin="miter"/>
<path d="M1545.1 776.4 L1548.4 776.4 L1548.4 806.3 L1545.1 806.3Z" stroke-width="2.0" fill="none" stroke-linejoin="miter"/>
<path d="M1545.1 1533.8 L1548.4 1533.8 L1548.4 1503.9 L1545.1 1503.9Z" stroke-width="2.0" fill="none" stroke-linejoin="miter"/>
<path d="M1551.1 812.5 L1551.1 766 L1588.8 766" stroke-width="3.1" fill="none" stroke-linejoin="miter"/>
<path d="M1551.1 1497.7 L1551.1 1544.2 L1588.8 1544.2" stroke-width="3.1" fill="none" stroke-linejoin="miter"/>
<line x1="1587.7" y1="766.9" x2="1552.7" y2="811.2" stroke-width="1.4"/>
<polygon points="1552.7,811.2 1565.6,788.3 1571.9,793.3" fill="#000" stroke="none"/>
<line x1="1587.7" y1="1543.3" x2="1552.7" y2="1499" stroke-width="1.4"/>
<polygon points="1552.7,1499 1571.9,1516.9 1565.6,1521.9" fill="#000" stroke="none"/>
<path d="M1413 768.7 L1420.8 768.7 L1420.8 782 L1413 782Z" stroke-width="3.1" fill="none" stroke-linejoin="miter"/>
<path d="M1413 1541.5 L1420.8 1541.5 L1420.8 1528.2 L1413 1528.2Z" stroke-width="3.1" fill="none" stroke-linejoin="miter"/>
<path d="M1443 768.7 L1450.7 768.7 L1450.7 782 L1443 782Z" stroke-width="3.1" fill="none" stroke-linejoin="miter"/>
<path d="M1443 1541.5 L1450.7 1541.5 L1450.7 1528.2 L1443 1528.2Z" stroke-width="3.1" fill="none" stroke-linejoin="miter"/>
<path d="M1462.9 809.7 L1496.1 776.9 L1529.4 809.7 L1496.1 842.5Z" stroke-width="3.1" fill="none" stroke-linejoin="miter"/>
<path d="M1462.9 1500.5 L1496.1 1533.3 L1529.4 1500.5 L1496.1 1467.7Z" stroke-width="3.1" fill="none" stroke-linejoin="miter"/>
<path d="M1492.2 772 L1500.1 772 L1500.1 777.5 L1492.2 777.5Z" stroke-width="2.0" fill="none" stroke-linejoin="miter"/>
<path d="M1492.2 1538.2 L1500.1 1538.2 L1500.1 1532.7 L1492.2 1532.7Z" stroke-width="2.0" fill="none" stroke-linejoin="miter"/>
<path d="M1492.2 842.5 L1500.1 842.5 L1500.1 847.8 L1492.2 847.8Z" stroke-width="2.0" fill="none" stroke-linejoin="miter"/>
<path d="M1492.2 1467.7 L1500.1 1467.7 L1500.1 1462.4 L1492.2 1462.4Z" stroke-width="2.0" fill="none" stroke-linejoin="miter"/>
<path d="M1459.1 809.7 L1534.5 809.7" stroke-width="1.45" fill="none" stroke-linejoin="miter"/>
<path d="M1459.1 1500.5 L1534.5 1500.5" stroke-width="1.45" fill="none" stroke-linejoin="miter"/>
<path d="M1496.1 765.3 L1496.1 853.3" stroke-width="1.45" fill="none" stroke-linejoin="miter"/>
<path d="M1496.1 1544.9 L1496.1 1456.9" stroke-width="1.45" fill="none" stroke-linejoin="miter"/>
<path d="M1464 813 L1454 813 L1454 875 L1467.3 888.3 L1544.9 888.3 L1547.8 883.9 L1547.8 880.8 L1595.2 880.8 L1595.2 815.2 L1593 813 L1528.3 813" stroke-width="3.1" fill="none" stroke-linejoin="miter"/>
<path d="M1464 1497.2 L1454 1497.2 L1454 1435.2 L1467.3 1421.9 L1544.9 1421.9 L1547.8 1426.3 L1547.8 1429.4 L1595.2 1429.4 L1595.2 1495 L1593 1497.2 L1528.3 1497.2" stroke-width="3.1" fill="none" stroke-linejoin="miter"/>
<path d="M1419.7 800.8 L1419.7 890.5 L1419.7 890.5 L1420.1 896.4 L1421.2 901.4 L1423.2 905.7 L1425.9 909.2 L1429.4 911.9 L1433.6 913.8 L1438.7 915 L1444.5 915.4 L1554.9 915.4 L1560.4 920.9 L1560.4 968.1" stroke-width="3.1" fill="none" stroke-linejoin="miter"/>
<path d="M1419.7 1509.4 L1419.7 1419.7 L1419.7 1419.7 L1420.1 1413.8 L1421.2 1408.8 L1423.2 1404.5 L1425.9 1401 L1429.4 1398.3 L1433.6 1396.4 L1438.7 1395.2 L1444.5 1394.8 L1554.9 1394.8 L1560.4 1389.3 L1560.4 1342.1" stroke-width="3.1" fill="none" stroke-linejoin="miter"/>
<path d="M1421.5 801.5 L1421.5 889.4" stroke-width="3.1" fill="none" stroke-linejoin="miter"/>
<path d="M1421.5 1508.7 L1421.5 1420.8" stroke-width="3.1" fill="none" stroke-linejoin="miter"/>
<path d="M1419.7 800.3 L1437.9 800.3 L1440.1 802.6" stroke-width="3.1" fill="none" stroke-linejoin="miter"/>
<path d="M1419.7 1509.9 L1437.9 1509.9 L1440.1 1507.6" stroke-width="3.1" fill="none" stroke-linejoin="miter"/>
<path d="M1440.1 802.6 L1440.1 889.4 L1440.1 889.4 L1440.3 893.2 L1441.1 896.4 L1442.3 899.2 L1444.1 901.4 L1446.3 903.2 L1449 904.4 L1452.3 905.1 L1456 905.4 L1683 905.4" stroke-width="3.1" fill="none" stroke-linejoin="miter"/>
<path d="M1440.1 1507.6 L1440.1 1420.8 L1440.1 1420.8 L1440.3 1417 L1441.1 1413.8 L1442.3 1411 L1444.1 1408.8 L1446.3 1407 L1449 1405.8 L1452.3 1405.1 L1456 1404.8 L1683 1404.8" stroke-width="3.1" fill="none" stroke-linejoin="miter"/>
<path d="M1442.1 804.1 L1442.1 889.4 L1442.1 889.4 L1442.3 892.6 L1442.9 895.4 L1444 897.7 L1445.4 899.6 L1447.3 901.1 L1449.7 902.1 L1452.4 902.7 L1455.6 903 L1561.5 903 L1561.5 903 L1566.3 902.4 L1570.7 901.5 L1574.7 900.1 L1578.4 898.3" stroke-width="1.6" fill="none" stroke-linejoin="miter"/>
<path d="M1442.1 1506.1 L1442.1 1420.8 L1442.1 1420.8 L1442.3 1417.6 L1442.9 1414.8 L1444 1412.5 L1445.4 1410.6 L1447.3 1409.1 L1449.7 1408.1 L1452.4 1407.5 L1455.6 1407.2 L1561.5 1407.2 L1561.5 1407.2 L1566.3 1407.8 L1570.7 1408.7 L1574.7 1410.1 L1578.4 1411.9" stroke-width="1.6" fill="none" stroke-linejoin="miter"/>
<path d="M1543.8 942.6 L1560.4 942.6" stroke-width="3.1" fill="none" stroke-linejoin="miter"/>
<path d="M1543.8 1367.6 L1560.4 1367.6" stroke-width="3.1" fill="none" stroke-linejoin="miter"/>
<path d="M1596.5 812.5 L1682.3 812.5 L1682.3 905.4" stroke-width="3.1" fill="none" stroke-linejoin="miter"/>
<path d="M1596.5 1497.7 L1682.3 1497.7 L1682.3 1404.8" stroke-width="3.1" fill="none" stroke-linejoin="miter"/>
<path d="M1577 880.8 L1577 896.3 L1579.9 900.3 L1677.4 900.3 L1681.2 896.3" stroke-width="3.1" fill="none" stroke-linejoin="miter"/>
<path d="M1577 1429.4 L1577 1413.9 L1579.9 1409.9 L1677.4 1409.9 L1681.2 1413.9" stroke-width="3.1" fill="none" stroke-linejoin="miter"/>
<path d="M1579.9 896.3 L1679.7 896.3" stroke-width="2.0" fill="none" stroke-linejoin="miter"/>
<path d="M1579.9 1413.9 L1679.7 1413.9" stroke-width="2.0" fill="none" stroke-linejoin="miter"/>
<path d="M1596.1 865.3 L1600.3 865.3 L1600.3 875.9 L1596.1 875.9Z" stroke-width="2.0" fill="none" stroke-linejoin="miter"/>
<path d="M1596.1 1444.9 L1600.3 1444.9 L1600.3 1434.3 L1596.1 1434.3Z" stroke-width="2.0" fill="none" stroke-linejoin="miter"/>
<path d="M1682.3 868.2 L1690.1 868.2 L1690.1 880.8 L1682.3 880.8Z" stroke-width="2.0" fill="none" stroke-linejoin="miter"/>
<path d="M1682.3 1442 L1690.1 1442 L1690.1 1429.4 L1682.3 1429.4Z" stroke-width="2.0" fill="none" stroke-linejoin="miter"/>
<path d="M1665.2 812.5 L1665.2 798.6 L1667.9 795.7 L1716.7 795.7 L1723.3 801.5 L1723.3 889.4 L1744.4 889.4 L1754.3 899.4 L1754.3 1155" stroke-width="3.1" fill="none" stroke-linejoin="miter"/>
<path d="M1665.2 1497.7 L1665.2 1511.6 L1667.9 1514.5 L1716.7 1514.5 L1723.3 1508.7 L1723.3 1420.8 L1744.4 1420.8 L1754.3 1410.8 L1754.3 1155.2" stroke-width="3.1" fill="none" stroke-linejoin="miter"/>
<path d="M1682.3 888.3 L1694.5 899.4 L1694.5 918.3 L1685.6 927.1 L1685.6 974.8" stroke-width="3.1" fill="none" stroke-linejoin="miter"/>
<path d="M1682.3 1421.9 L1694.5 1410.8 L1694.5 1391.9 L1685.6 1383.1 L1685.6 1335.4" stroke-width="3.1" fill="none" stroke-linejoin="miter"/>
<path d="M1601.4 905.4 L1601.4 918.3 L1676.8 918.3 L1676.8 905.4" stroke-width="3.1" fill="none" stroke-linejoin="miter"/>
<path d="M1601.4 1404.8 L1601.4 1391.9 L1676.8 1391.9 L1676.8 1404.8" stroke-width="3.1" fill="none" stroke-linejoin="miter"/>
<circle cx="1639.1" cy="937.1" r="21.1" stroke-width="3.1" fill="#f5f6fb"/>
<circle cx="1639.1" cy="1373.1" r="21.1" stroke-width="3.1" fill="#f5f6fb"/>
<path d="M1605.4 928.2 L1616.9 928.2 L1616.9 944.8 L1605.4 944.8Z" stroke-width="3.1" fill="none" stroke-linejoin="miter"/>
<path d="M1605.4 1382 L1616.9 1382 L1616.9 1365.4 L1605.4 1365.4Z" stroke-width="3.1" fill="none" stroke-linejoin="miter"/>
<path d="M1526.1 999.1 L1591.4 999.1 L1591.4 933.8 L1601.4 933.8 L1601.4 955.9 L1663.5 955.9 L1665.7 958.1 L1665.7 968.1 L1612.5 968.1 L1612.5 973.7 L1618 973.7" stroke-width="3.1" fill="none" stroke-linejoin="miter"/>
<path d="M1526.1 1311.1 L1591.4 1311.1 L1591.4 1376.4 L1601.4 1376.4 L1601.4 1354.3 L1663.5 1354.3 L1665.7 1352.1 L1665.7 1342.1 L1612.5 1342.1 L1612.5 1336.5 L1618 1336.5" stroke-width="3.1" fill="none" stroke-linejoin="miter"/>
<path d="M1610.3 955.9 L1610.3 968.1" stroke-width="3.1" fill="none" stroke-linejoin="miter"/>
<path d="M1610.3 1354.3 L1610.3 1342.1" stroke-width="3.1" fill="none" stroke-linejoin="miter"/>
<path d="M1389.8 968.1 L1450.7 968.1 L1450.7 942.6 L1527.2 942.6" stroke-width="3.1" fill="none" stroke-linejoin="miter"/>
<path d="M1389.8 1342.1 L1450.7 1342.1 L1450.7 1367.6 L1527.2 1367.6" stroke-width="3.1" fill="none" stroke-linejoin="miter"/>
<path d="M1452.9 963.7 L1527.2 963.7" stroke-width="3.1" fill="none" stroke-linejoin="miter"/>
<path d="M1452.9 1346.5 L1527.2 1346.5" stroke-width="3.1" fill="none" stroke-linejoin="miter"/>
<circle cx="1489.5" cy="979.2" r="19.1" stroke-width="3.1" fill="#f5f6fb"/>
<circle cx="1489.5" cy="1331" r="19.1" stroke-width="3.1" fill="#f5f6fb"/>
<path d="M1452.9 994.7 L1523.8 994.7 L1527.2 998 L1527.2 1014.7" stroke-width="3.1" fill="none" stroke-linejoin="miter"/>
<path d="M1452.9 1315.5 L1523.8 1315.5 L1527.2 1312.2 L1527.2 1295.5" stroke-width="3.1" fill="none" stroke-linejoin="miter"/>
<path d="M1527.2 933.8 L1543.8 933.8 L1543.8 970.3 L1527.2 970.3Z" stroke-width="3.1" fill="none" stroke-linejoin="miter"/>
<path d="M1527.2 1376.4 L1543.8 1376.4 L1543.8 1339.9 L1527.2 1339.9Z" stroke-width="3.1" fill="none" stroke-linejoin="miter"/>
<path d="M1441.8 985.9 L1451.8 985.9 L1451.8 1022.4 L1441.8 1022.4Z" stroke-width="3.1" fill="none" stroke-linejoin="miter"/>
<path d="M1441.8 1324.3 L1451.8 1324.3 L1451.8 1287.8 L1441.8 1287.8Z" stroke-width="3.1" fill="none" stroke-linejoin="miter"/>
<path d="M1519.4 1014.7 L1519.4 1018 L1526.5 1018" stroke-width="3.1" fill="none" stroke-linejoin="miter"/>
<path d="M1519.4 1295.5 L1519.4 1292.2 L1526.5 1292.2" stroke-width="3.1" fill="none" stroke-linejoin="miter"/>
<path d="M1420.8 968.1 L1420.8 1014.2" stroke-width="3.1" fill="none" stroke-linejoin="miter"/>
<path d="M1420.8 1342.1 L1420.8 1296" stroke-width="3.1" fill="none" stroke-linejoin="miter"/>
<line x1="1390.9" y1="969.9" x2="1419.7" y2="1012.4" stroke-width="1.4"/>
<polygon points="1419.7,1012.4 1401.8,993.2 1408.4,988.7" fill="#000" stroke="none"/>
<line x1="1390.9" y1="1340.3" x2="1419.7" y2="1297.8" stroke-width="1.4"/>
<polygon points="1419.7,1297.8 1408.4,1321.5 1401.8,1317" fill="#000" stroke="none"/>
<path d="M1665.7 968.1 L1674.6 968.1 L1674.6 974.8 L1725.5 974.8 L1725.5 1014.7" stroke-width="3.1" fill="none" stroke-linejoin="miter"/>
<path d="M1665.7 1342.1 L1674.6 1342.1 L1674.6 1335.4 L1725.5 1335.4 L1725.5 1295.5" stroke-width="3.1" fill="none" stroke-linejoin="miter"/>
<path d="M1676.8 974.8 L1676.8 996.9 L1674.1 996.9 L1674.1 1003.6 L1676.8 1003.6 L1676.8 1014.7" stroke-width="3.1" fill="none" stroke-linejoin="miter"/>
<path d="M1676.8 1335.4 L1676.8 1313.3 L1674.1 1313.3 L1674.1 1306.6 L1676.8 1306.6 L1676.8 1295.5" stroke-width="3.1" fill="none" stroke-linejoin="miter"/>
<path d="M1721.1 974.8 L1721.1 1014.7" stroke-width="3.1" fill="none" stroke-linejoin="miter"/>
<path d="M1721.1 1335.4 L1721.1 1295.5" stroke-width="3.1" fill="none" stroke-linejoin="miter"/>
<path d="M1676.8 984.1 L1719.5 984.1" stroke-width="3.1" fill="none" stroke-linejoin="miter"/>
<path d="M1676.8 1326.1 L1719.5 1326.1" stroke-width="3.1" fill="none" stroke-linejoin="miter"/>
<path d="M1676.8 1005.1 L1719.5 1005.1" stroke-width="3.1" fill="none" stroke-linejoin="miter"/>
<path d="M1676.8 1305.1 L1719.5 1305.1" stroke-width="3.1" fill="none" stroke-linejoin="miter"/>
<circle cx="1697.8" cy="994.7" r="12.9" stroke-width="3.1" fill="#f5f6fb"/>
<circle cx="1697.8" cy="1315.5" r="12.9" stroke-width="3.1" fill="#f5f6fb"/>
<path d="M1725.5 987 L1752.6 987" stroke-width="3.1" fill="none" stroke-linejoin="miter"/>
<path d="M1725.5 1323.2 L1752.6 1323.2" stroke-width="3.1" fill="none" stroke-linejoin="miter"/>
<line x1="1752.1" y1="988.1" x2="1727.7" y2="1013.6" stroke-width="1.4"/>
<polygon points="1727.7,1013.6 1739.4,997 1743.7,1001.2" fill="#000" stroke="none"/>
<line x1="1752.1" y1="1322.1" x2="1727.7" y2="1296.6" stroke-width="1.4"/>
<polygon points="1727.7,1296.6 1743.7,1309 1739.4,1313.2" fill="#000" stroke="none"/>
<path d="M1346.5 1014.7 L1527.2 1014.7" stroke-width="3.1" fill="none" stroke-linejoin="miter"/>
<path d="M1346.5 1295.5 L1527.2 1295.5" stroke-width="3.1" fill="none" stroke-linejoin="miter"/>
<path d="M1674.6 1014.7 L1754.3 1014.7" stroke-width="3.1" fill="none" stroke-linejoin="miter"/>
<path d="M1674.6 1295.5 L1754.3 1295.5" stroke-width="3.1" fill="none" stroke-linejoin="miter"/>
<line x1="1347.2" y1="1014.5" x2="1347.2" y2="1295.7" stroke-width="4.0"/>
<line x1="1752.8" y1="1014.5" x2="1752.8" y2="1295.7" stroke-width="4.6"/>
<line x1="1347.2" y1="1043.2" x2="1408.2" y2="1043.2" stroke-width="2.7"/>
<line x1="1598.8" y1="1043.2" x2="1752.8" y2="1043.2" stroke-width="2.7"/>
<line x1="1347.2" y1="1267" x2="1408.2" y2="1267" stroke-width="2.7"/>
<line x1="1598.8" y1="1267" x2="1752.8" y2="1267" stroke-width="2.7"/>
<rect x="1408.2" y="1040.9" width="190.6" height="228.3" stroke-width="3.0" fill="none"/>
<line x1="1214.7" y1="1015.5" x2="1342.1" y2="1015.5" stroke-width="1.4"/>
<line x1="1214.7" y1="1294.7" x2="1342.1" y2="1294.7" stroke-width="1.4"/>
<line x1="1281" y1="1043.2" x2="1342.1" y2="1043.2" stroke-width="1.4"/>
<line x1="1757.7" y1="1043.2" x2="1861" y2="1043.2" stroke-width="1.4"/>
<line x1="1281" y1="1267" x2="1342.1" y2="1267" stroke-width="1.4"/>
<line x1="1757.7" y1="1267" x2="1861" y2="1267" stroke-width="1.4"/>
<line x1="1333.2" y1="1155.1" x2="1406.4" y2="1155.1" stroke-width="1.4"/>
<line x1="1420.8" y1="1155.1" x2="1438.5" y2="1155.1" stroke-width="1.4"/>
<line x1="1452.9" y1="1155.1" x2="1532.7" y2="1155.1" stroke-width="1.4"/>
<line x1="1548.2" y1="1155.1" x2="1564.8" y2="1155.1" stroke-width="1.4"/>
<line x1="1579.3" y1="1155.1" x2="1659" y2="1155.1" stroke-width="1.4"/>
<line x1="1674.6" y1="1155.1" x2="1691.2" y2="1155.1" stroke-width="1.4"/>
<line x1="1706.7" y1="1155.1" x2="1779.8" y2="1155.1" stroke-width="1.4"/>
<path d="M1348.3 1020.6 L1388.7 1020.6 L1388.7 1038.1 L1348.3 1038.1" stroke-width="2.8" fill="none" stroke-linejoin="miter"/>
<path d="M1348.3 1022.3 L1385.3 1022.3" stroke-width="1.6" fill="none" stroke-linejoin="miter"/>
<path d="M1348.3 1036.3 L1385.3 1036.3" stroke-width="1.6" fill="none" stroke-linejoin="miter"/>
<path d="M1388.7 1022.1 L1397.1 1029.2 L1388.7 1036.5" stroke-width="2.0" fill="none" stroke-linejoin="miter"/>
<path d="M1385.3 1020.6 L1385.3 1038.1" stroke-width="2.0" fill="none" stroke-linejoin="miter"/>
<line x1="1349.9" y1="1029.2" x2="1387.5" y2="1029.2" stroke-width="2.2" stroke-dasharray="14 4 4 4"/>
<path d="M1751.7 1020.6 L1711.3 1020.6 L1711.3 1038.1 L1751.7 1038.1" stroke-width="2.8" fill="none" stroke-linejoin="miter"/>
<path d="M1751.7 1022.3 L1714.7 1022.3" stroke-width="1.6" fill="none" stroke-linejoin="miter"/>
<path d="M1751.7 1036.3 L1714.7 1036.3" stroke-width="1.6" fill="none" stroke-linejoin="miter"/>
<path d="M1711.3 1022.1 L1702.9 1029.2 L1711.3 1036.5" stroke-width="2.0" fill="none" stroke-linejoin="miter"/>
<path d="M1714.7 1020.6 L1714.7 1038.1" stroke-width="2.0" fill="none" stroke-linejoin="miter"/>
<line x1="1750.1" y1="1029.2" x2="1712.5" y2="1029.2" stroke-width="2.2" stroke-dasharray="14 4 4 4"/>
<path d="M1348.3 1289.6 L1388.7 1289.6 L1388.7 1272.1 L1348.3 1272.1" stroke-width="2.8" fill="none" stroke-linejoin="miter"/>
<path d="M1348.3 1287.9 L1385.3 1287.9" stroke-width="1.6" fill="none" stroke-linejoin="miter"/>
<path d="M1348.3 1273.9 L1385.3 1273.9" stroke-width="1.6" fill="none" stroke-linejoin="miter"/>
<path d="M1388.7 1288.1 L1397.1 1281 L1388.7 1273.7" stroke-width="2.0" fill="none" stroke-linejoin="miter"/>
<path d="M1385.3 1289.6 L1385.3 1272.1" stroke-width="2.0" fill="none" stroke-linejoin="miter"/>
<line x1="1349.9" y1="1281" x2="1387.5" y2="1281" stroke-width="2.2" stroke-dasharray="14 4 4 4"/>
<path d="M1751.7 1289.6 L1711.3 1289.6 L1711.3 1272.1 L1751.7 1272.1" stroke-width="2.8" fill="none" stroke-linejoin="miter"/>
<path d="M1751.7 1287.9 L1714.7 1287.9" stroke-width="1.6" fill="none" stroke-linejoin="miter"/>
<path d="M1751.7 1273.9 L1714.7 1273.9" stroke-width="1.6" fill="none" stroke-linejoin="miter"/>
<path d="M1711.3 1288.1 L1702.9 1281 L1711.3 1273.7" stroke-width="2.0" fill="none" stroke-linejoin="miter"/>
<path d="M1714.7 1289.6 L1714.7 1272.1" stroke-width="2.0" fill="none" stroke-linejoin="miter"/>
<line x1="1750.1" y1="1281" x2="1712.5" y2="1281" stroke-width="2.2" stroke-dasharray="14 4 4 4"/>
<path d="M1389.8 729.9 L1589.2 729.9" stroke-width="3.1" fill="none" stroke-linejoin="miter"/>
<path d="M1389.8 756.5 L1589.2 756.5" stroke-width="3.1" fill="none" stroke-linejoin="miter"/>
<line x1="1378.7" y1="743.8" x2="1468.7" y2="743.8" stroke-width="1.4"/>
<line x1="1484.2" y1="743.8" x2="1500.8" y2="743.8" stroke-width="1.4"/>
<line x1="1516.3" y1="743.8" x2="1606" y2="743.8" stroke-width="1.4"/>
<path d="M1528.9 830.7 L1522.3 844 L1528.9 856.6" stroke-width="2.0" fill="none" stroke-linejoin="miter"/>
<path d="M1528.9 830.7 L1528.9 856.6" stroke-width="2.0" fill="none" stroke-linejoin="miter"/>
<path d="M1545.1 828 L1545.1 859.5" stroke-width="3.1" fill="none" stroke-linejoin="miter"/>
<path d="M1528.9 830.7 L1595 830.7" stroke-width="2.0" fill="none" stroke-linejoin="miter"/>
<path d="M1537.1 830.7 L1541.6 828 L1595 828" stroke-width="3.1" fill="none" stroke-linejoin="miter"/>
<path d="M1528.9 856.6 L1595 856.6" stroke-width="2.0" fill="none" stroke-linejoin="miter"/>
<path d="M1537.1 856.6 L1541.6 859.5 L1595 859.5" stroke-width="3.2" fill="none" stroke-linejoin="miter"/>
<path d="M1596.5 826.3 L1722.9 826.3" stroke-width="3.1" fill="none" stroke-linejoin="miter"/>
<path d="M1596.5 860.6 L1722.9 860.6" stroke-width="3.1" fill="none" stroke-linejoin="miter"/>
<line x1="1515" y1="844" x2="1602.5" y2="844" stroke-width="1.4"/>
<line x1="1617.6" y1="844" x2="1633.1" y2="844" stroke-width="1.4"/>
<line x1="1649.7" y1="844" x2="1737" y2="844" stroke-width="1.4"/>
<path d="M1390.5 1541.9 L1408.8 1541.9 L1408.8 1591.2 L1390.5 1591.2Z" stroke-width="3.1" fill="none" stroke-linejoin="miter"/>
<path d="M1406.6 1544.1 C1390.6 1546.1 1390.6 1587 1406.6 1589" stroke-width="1.8" fill="none" />
<path d="M1408.8 1553 L1493 1553 L1493 1579.6 L1408.8 1579.6" stroke-width="3.4" fill="none" stroke-linejoin="miter"/>
<path d="M1418.8 1557.2 L1493 1557.2" stroke-width="1.8" fill="none" stroke-linejoin="miter"/>
<path d="M1418.8 1575.1 L1493 1575.1" stroke-width="1.8" fill="none" stroke-linejoin="miter"/>
<path d="M1408.8 1553 L1417.7 1557.2 L1417.7 1575.1 L1408.8 1579.6" stroke-width="1.8" fill="none" stroke-linejoin="miter"/>
<path d="M1466.4 1553 L1466.4 1579.6" stroke-width="1.8" fill="none" stroke-linejoin="miter"/>
<path d="M1469.7 1553 L1469.7 1579.6" stroke-width="1.8" fill="none" stroke-linejoin="miter"/>
<path d="M1493 1557.2 L1508.5 1557.2 L1514.6 1566.1 L1508.5 1575.1 L1493 1575.1" stroke-width="3.1" fill="none" stroke-linejoin="miter"/>
<path d="M1508.5 1557.2 L1508.5 1575.1" stroke-width="1.6" fill="none" stroke-linejoin="miter"/>
<line x1="1376.1" y1="1566.1" x2="1427.1" y2="1566.1" stroke-width="1.4"/>
<line x1="1445.4" y1="1566.1" x2="1458.7" y2="1566.1" stroke-width="1.4"/>
<line x1="1473" y1="1566.1" x2="1524" y2="1566.1" stroke-width="1.4"/>
<path d="M1694.5 1441.3 L1722.2 1441.3 L1722.2 1490.5 L1694.5 1490.5Z" stroke-width="3.1" fill="none" stroke-linejoin="miter"/>
<path d="M1719.5 1442.9 L1719.5 1489.4" stroke-width="1.6" fill="none" stroke-linejoin="miter"/>
<path d="M1544.9 1451.8 L1694.5 1451.8" stroke-width="3.6" fill="none" stroke-linejoin="miter"/>
<path d="M1544.9 1480.6 L1694.5 1480.6" stroke-width="3.6" fill="none" stroke-linejoin="miter"/>
<path d="M1544.9 1451.8 L1544.9 1480.6" stroke-width="3.1" fill="none" stroke-linejoin="miter"/>
<path d="M1544.9 1456.2 L1684.5 1456.2" stroke-width="1.8" fill="none" stroke-linejoin="miter"/>
<path d="M1544.9 1476.1 L1684.5 1476.1" stroke-width="1.8" fill="none" stroke-linejoin="miter"/>
<path d="M1572.2 1451.8 L1572.2 1480.6" stroke-width="1.8" fill="none" stroke-linejoin="miter"/>
<path d="M1575.3 1451.8 L1575.3 1480.6" stroke-width="1.8" fill="none" stroke-linejoin="miter"/>
<path d="M1684.5 1451.8 L1684.5 1480.6" stroke-width="1.8" fill="none" stroke-linejoin="miter"/>
<path d="M1684.5 1456.2 L1694.5 1451.8" stroke-width="1.6" fill="none" stroke-linejoin="miter"/>
<path d="M1684.5 1476.1 L1694.5 1480.6" stroke-width="1.6" fill="none" stroke-linejoin="miter"/>
<path d="M1544.9 1456.2 L1528.9 1456.2 L1523.4 1466.2 L1528.9 1476.1 L1544.9 1476.1" stroke-width="2.0" fill="none" stroke-linejoin="miter"/>
<path d="M1528.9 1456.2 L1528.9 1476.1" stroke-width="1.6" fill="none" stroke-linejoin="miter"/>
<line x1="1515" y1="1466.2" x2="1602.5" y2="1466.2" stroke-width="1.4"/>
<line x1="1617.6" y1="1466.2" x2="1633.1" y2="1466.2" stroke-width="1.4"/>
<line x1="1649.7" y1="1466.2" x2="1737" y2="1466.2" stroke-width="1.4"/>
<line x1="1345.7" y1="453" x2="1345.7" y2="1015" stroke-width="1.4"/>
<line x1="1754.3" y1="453" x2="1754.3" y2="890" stroke-width="1.4"/>
<line x1="1345.7" y1="461.4" x2="1754.3" y2="461.4" stroke-width="1.4"/>
<polygon points="1345.7,461.4 1373.4,456.7 1373.4,466.1" fill="#000" stroke="none"/>
<polygon points="1754.3,461.4 1726.6,466.1 1726.6,456.7" fill="#000" stroke="none"/>
<text transform="translate(1517 451.5) scale(0.74 1)" font-family="'DejaVu Sans','Liberation Sans',sans-serif" font-size="38" text-anchor="start" font-weight="200" fill="#000" textLength="89.2" lengthAdjust="spacing" stroke="#000" stroke-width="0.7" >65,5</text>
<line x1="1389.4" y1="521" x2="1389.4" y2="695" stroke-width="1.4"/>
<line x1="1588.6" y1="521" x2="1588.6" y2="712" stroke-width="1.4"/>
<line x1="1389.4" y1="527.1" x2="1754.3" y2="527.1" stroke-width="1.4"/>
<polygon points="1389.4,527.1 1417.1,522.4 1417.1,531.8" fill="#000" stroke="none"/>
<polygon points="1588.6,527.1 1560.9,531.8 1560.9,522.4" fill="#000" stroke="none"/>
<polygon points="1588.6,527.1 1616.3,522.4 1616.3,531.8" fill="#000" stroke="none"/>
<polygon points="1754.3,527.1 1726.6,531.8 1726.6,522.4" fill="#000" stroke="none"/>
<text transform="translate(1471 520) scale(0.74 1)" font-family="'DejaVu Sans','Liberation Sans',sans-serif" font-size="38" text-anchor="start" font-weight="200" fill="#000" textLength="47.3" lengthAdjust="spacing" stroke="#000" stroke-width="0.7" >32</text>
<text transform="translate(1638.5 517.5) scale(0.74 1)" font-family="'DejaVu Sans','Liberation Sans',sans-serif" font-size="38" text-anchor="start" font-weight="200" fill="#000" textLength="87.8" lengthAdjust="spacing" stroke="#000" stroke-width="0.7" >26,5</text>
<line x1="1663.6" y1="598.6" x2="1663.6" y2="794" stroke-width="1.4"/>
<line x1="1723" y1="598.6" x2="1723" y2="796.5" stroke-width="1.4"/>
<line x1="1607.9" y1="605.8" x2="1778" y2="605.8" stroke-width="1.4"/>
<polygon points="1663.6,605.8 1635.9,610.5 1635.9,601.1" fill="#000" stroke="none"/>
<polygon points="1723,605.8 1750.7,601.1 1750.7,610.5" fill="#000" stroke="none"/>
<text transform="translate(1669.5 594.3) scale(0.74 1)" font-family="'DejaVu Sans','Liberation Sans',sans-serif" font-size="38" text-anchor="start" font-weight="200" fill="#000" textLength="62.8" lengthAdjust="spacing" stroke="#000" stroke-width="0.7" >9,5</text>
<line x1="1667" y1="653.3" x2="1809" y2="653.3" stroke-width="1.4"/>
<polygon points="1723,653.3 1695.3,658 1695.3,648.6" fill="#000" stroke="none"/>
<polygon points="1754.3,653.3 1782,648.6 1782,658" fill="#000" stroke="none"/>
<text transform="translate(1729 646) scale(0.74 1)" font-family="'DejaVu Sans','Liberation Sans',sans-serif" font-size="38" text-anchor="start" font-weight="200" fill="#000" stroke="#000" stroke-width="0.7" >5</text>
<line x1="1464.3" y1="637" x2="1464.3" y2="694" stroke-width="1.4"/>
<line x1="1256.4" y1="645" x2="1464.3" y2="645" stroke-width="1.4"/>
<polygon points="1345.7,645 1318,649.7 1318,640.3" fill="#000" stroke="none"/>
<polygon points="1389.4,645 1417.1,640.3 1417.1,649.7" fill="#000" stroke="none"/>
<polygon points="1464.3,645 1436.6,649.7 1436.6,640.3" fill="#000" stroke="none"/>
<text transform="translate(1262 637) scale(0.74 1)" font-family="'DejaVu Sans','Liberation Sans',sans-serif" font-size="38" text-anchor="start" font-weight="200" fill="#000" stroke="#000" stroke-width="0.7" >7</text>
<text transform="translate(1411.5 637) scale(0.56 1)" font-family="'DejaVu Sans','Liberation Sans',sans-serif" font-size="38" text-anchor="start" font-weight="200" fill="#000" stroke="#000" stroke-width="0.7" >12</text>
<line x1="1143" y1="697.3" x2="1386" y2="697.3" stroke-width="1.4"/>
<line x1="1143" y1="1612.9" x2="1386" y2="1612.9" stroke-width="1.4"/>
<line x1="1150.4" y1="697.3" x2="1150.4" y2="1612.9" stroke-width="1.4"/>
<polygon points="1150.4,697.3 1155.1,725 1145.7,725" fill="#000" stroke="none"/>
<polygon points="1150.4,1612.9 1145.7,1585.2 1155.1,1585.2" fill="#000" stroke="none"/>
<text transform="translate(1143.5 1218.5) rotate(-90) scale(0.74 1)" font-family="'DejaVu Sans','Liberation Sans',sans-serif" font-size="38" text-anchor="start" font-weight="200" fill="#000" textLength="174.3" lengthAdjust="spacing" stroke="#000" stroke-width="0.7" >ø147 h7</text>
<line x1="1223.7" y1="1015.3" x2="1223.7" y2="1294.9" stroke-width="1.4"/>
<polygon points="1223.7,1015.3 1228.4,1043 1219,1043" fill="#000" stroke="none"/>
<polygon points="1223.7,1294.9 1219,1267.2 1228.4,1267.2" fill="#000" stroke="none"/>
<text transform="translate(1214.7 1214) rotate(-90) scale(0.74 1)" font-family="'DejaVu Sans','Liberation Sans',sans-serif" font-size="38" text-anchor="start" font-weight="200" fill="#000" textLength="159.5" lengthAdjust="spacing" stroke="#000" stroke-width="0.7" >ø45 h7</text>
<line x1="1288.9" y1="1043.2" x2="1288.9" y2="1267" stroke-width="1.4"/>
<polygon points="1288.9,1043.2 1293.6,1070.9 1284.2,1070.9" fill="#000" stroke="none"/>
<polygon points="1288.9,1267 1284.2,1239.3 1293.6,1239.3" fill="#000" stroke="none"/>
<text transform="translate(1281 1212.5) rotate(-90) scale(0.74 1)" font-family="'DejaVu Sans','Liberation Sans',sans-serif" font-size="38" text-anchor="start" font-weight="200" fill="#000" textLength="158.1" lengthAdjust="spacing" stroke="#000" stroke-width="0.7" >ø36 H7</text>
<line x1="1854.7" y1="1043.2" x2="1854.7" y2="1267" stroke-width="1.4"/>
<polygon points="1854.7,1043.2 1859.4,1070.9 1850,1070.9" fill="#000" stroke="none"/>
<polygon points="1854.7,1267 1850,1239.3 1859.4,1239.3" fill="#000" stroke="none"/>
<text transform="translate(1847.4 1212.5) rotate(-90) scale(0.74 1)" font-family="'DejaVu Sans','Liberation Sans',sans-serif" font-size="38" text-anchor="start" font-weight="200" fill="#000" textLength="158.1" lengthAdjust="spacing" stroke="#000" stroke-width="0.7" >ø36 H7</text>
<line x1="1752" y1="890.4" x2="1954.2" y2="890.4" stroke-width="1.4"/>
<line x1="1752" y1="1419.8" x2="1954.2" y2="1419.8" stroke-width="1.4"/>
<line x1="1947" y1="890.4" x2="1947" y2="1419.8" stroke-width="1.4"/>
<polygon points="1947,890.4 1951.7,918.1 1942.3,918.1" fill="#000" stroke="none"/>
<polygon points="1947,1419.8 1942.3,1392.1 1951.7,1392.1" fill="#000" stroke="none"/>
<text transform="translate(1939.2 1212.5) rotate(-90) scale(0.74 1)" font-family="'DejaVu Sans','Liberation Sans',sans-serif" font-size="38" text-anchor="start" font-weight="200" fill="#000" textLength="158.1" lengthAdjust="spacing" stroke="#000" stroke-width="0.7" >ø85 h7</text>
<line x1="1723" y1="796.8" x2="2032.7" y2="796.8" stroke-width="1.4"/>
<line x1="1723" y1="1513.4" x2="2032.7" y2="1513.4" stroke-width="1.4"/>
<line x1="2025.3" y1="796.8" x2="2025.3" y2="1513.4" stroke-width="1.4"/>
<polygon points="2025.3,796.8 2030,824.5 2020.6,824.5" fill="#000" stroke="none"/>
<polygon points="2025.3,1513.4 2020.6,1485.7 2030,1485.7" fill="#000" stroke="none"/>
<text transform="translate(2017.6 1190) rotate(-90) scale(0.74 1)" font-family="'DejaVu Sans','Liberation Sans',sans-serif" font-size="38" text-anchor="start" font-weight="200" fill="#000" textLength="91.9" lengthAdjust="spacing" stroke="#000" stroke-width="0.7" >ø115</text>
<line x1="1590" y1="713" x2="2110.5" y2="713" stroke-width="1.4"/>
<line x1="1590" y1="1597.2" x2="2110.5" y2="1597.2" stroke-width="1.4"/>
<line x1="2103.3" y1="713" x2="2103.3" y2="1597.2" stroke-width="1.4"/>
<polygon points="2103.3,713 2108,740.7 2098.6,740.7" fill="#000" stroke="none"/>
<polygon points="2103.3,1597.2 2098.6,1569.5 2108,1569.5" fill="#000" stroke="none"/>
<text transform="translate(2097.3 1221.5) rotate(-90) scale(0.74 1)" font-family="'DejaVu Sans','Liberation Sans',sans-serif" font-size="38" text-anchor="start" font-weight="200" fill="#000" textLength="177" lengthAdjust="spacing" stroke="#000" stroke-width="0.7" >ø142 h7</text>
</svg></body></html>
